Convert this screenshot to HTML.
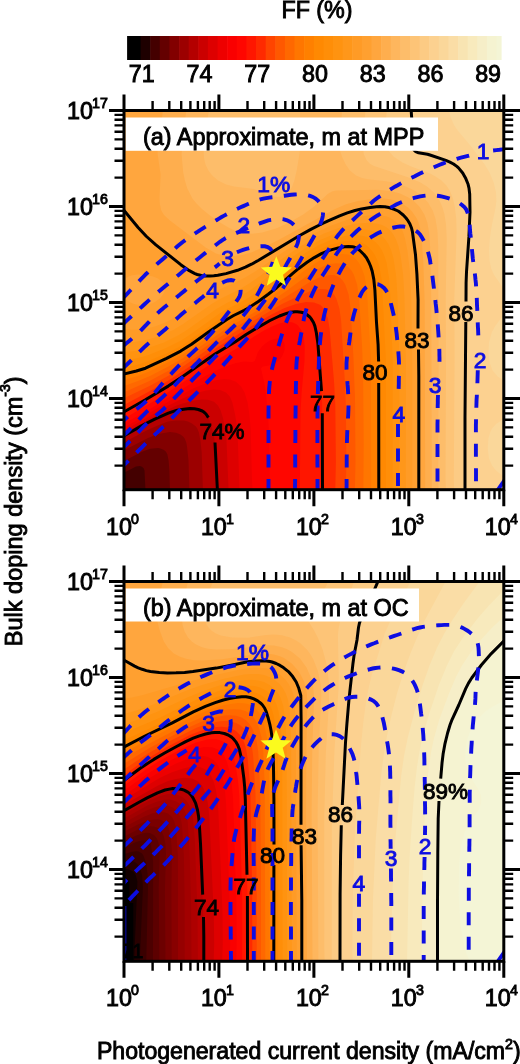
<!DOCTYPE html><html><head><meta charset="utf-8"><title>FF contour maps</title>
<style>html,body{margin:0;padding:0;background:#fff}svg{display:block}text{font-family:"Liberation Sans", sans-serif;fill:#000;stroke:#000;stroke-width:0.9px}</style></head><body>
<svg width="520" height="1064" viewBox="0 0 520 1064">
<defs><clipPath id="clip110"><rect x="124" y="110.5" width="379.8" height="379.2"/></clipPath>
<clipPath id="clip581"><rect x="124" y="581.5" width="379.8" height="379.8"/></clipPath></defs>
<rect width="520" height="1064" fill="#fff"/>
<rect x="127.1" y="36" width="14.1" height="24" fill="#000000"/>
<rect x="140.6" y="36" width="10.2" height="24" fill="#1e0000"/>
<rect x="150.2" y="36" width="10.2" height="24" fill="#440000"/>
<rect x="159.8" y="36" width="10.2" height="24" fill="#640000"/>
<rect x="169.5" y="36" width="10.2" height="24" fill="#820000"/>
<rect x="179.1" y="36" width="10.2" height="24" fill="#9c0000"/>
<rect x="188.7" y="36" width="10.2" height="24" fill="#b40000"/>
<rect x="198.3" y="36" width="10.2" height="24" fill="#cb0000"/>
<rect x="207.9" y="36" width="10.2" height="24" fill="#de0000"/>
<rect x="217.6" y="36" width="10.2" height="24" fill="#ee0000"/>
<rect x="227.2" y="36" width="10.2" height="24" fill="#fa0000"/>
<rect x="236.8" y="36" width="10.2" height="24" fill="#ff0600"/>
<rect x="246.4" y="36" width="10.2" height="24" fill="#ff1600"/>
<rect x="256" y="36" width="10.2" height="24" fill="#ff2a00"/>
<rect x="265.7" y="36" width="10.2" height="24" fill="#ff4400"/>
<rect x="275.3" y="36" width="10.2" height="24" fill="#ff5800"/>
<rect x="284.9" y="36" width="10.2" height="24" fill="#ff6800"/>
<rect x="294.5" y="36" width="10.2" height="24" fill="#ff7600"/>
<rect x="304.1" y="36" width="10.2" height="24" fill="#ff8000"/>
<rect x="313.8" y="36" width="10.2" height="24" fill="#ff8902"/>
<rect x="323.4" y="36" width="10.2" height="24" fill="#ff8e08"/>
<rect x="333" y="36" width="10.2" height="24" fill="#ff9310"/>
<rect x="342.6" y="36" width="10.2" height="24" fill="#ff971a"/>
<rect x="352.2" y="36" width="10.2" height="24" fill="#ff9b26"/>
<rect x="361.9" y="36" width="10.2" height="24" fill="#ffa030"/>
<rect x="371.5" y="36" width="10.2" height="24" fill="#ffa63e"/>
<rect x="381.1" y="36" width="10.2" height="24" fill="#feae4e"/>
<rect x="390.7" y="36" width="10.2" height="24" fill="#feb65d"/>
<rect x="400.3" y="36" width="10.2" height="24" fill="#fdbd6a"/>
<rect x="410" y="36" width="10.2" height="24" fill="#fdc477"/>
<rect x="419.6" y="36" width="10.2" height="24" fill="#fccb84"/>
<rect x="429.2" y="36" width="10.2" height="24" fill="#fcd190"/>
<rect x="438.8" y="36" width="10.2" height="24" fill="#fad79a"/>
<rect x="448.4" y="36" width="10.2" height="24" fill="#fadda6"/>
<rect x="458.1" y="36" width="10.2" height="24" fill="#f8e4b2"/>
<rect x="467.7" y="36" width="10.2" height="24" fill="#f8eabd"/>
<rect x="477.3" y="36" width="10.2" height="24" fill="#f6eec8"/>
<rect x="486.9" y="36" width="10.2" height="24" fill="#f5f3d1"/>
<rect x="496.5" y="36" width="5.1" height="24" fill="#f4f5d6"/>
<text x="141.8" y="82.3" font-size="23.3" text-anchor="middle">71</text>
<text x="199.5" y="82.3" font-size="23.3" text-anchor="middle">74</text>
<text x="257.2" y="82.3" font-size="23.3" text-anchor="middle">77</text>
<text x="315" y="82.3" font-size="23.3" text-anchor="middle">80</text>
<text x="372.7" y="82.3" font-size="23.3" text-anchor="middle">83</text>
<text x="430.4" y="82.3" font-size="23.3" text-anchor="middle">86</text>
<text x="488.1" y="82.3" font-size="23.3" text-anchor="middle">89</text>
<text x="317" y="17.6" font-size="23.3" text-anchor="middle">FF (%)</text>
<g clip-path="url(#clip110)">
<rect x="124" y="110.5" width="379.8" height="379.2" fill="#000000"/>
<path fill="#1e0000" d="M122,108.5 506,108.5 506,492.5 122,492.5Z"/>
<path fill="#440000" d="M122,108.5 506,108.5 506,492.5 122,492.5Z"/>
<path fill="#640000" d="M122,108.5 506,108.5 506,492.5 145.6,492.5 144.5,470.5 143.8,468.5 142,466.7 140,466.1 136,466.5 122,473.9Z"/>
<path fill="#820000" d="M122,108.5 506,108.5 506,492.5 170,492.5 169.4,470.5 168.6,460.5 167.4,454.5 166,451.8 164,450 160.5,448.5 158,448.1 150,448.8 142,451.7 122,461.9Z"/>
<path fill="#9c0000" d="M122,108.5 506,108.5 506,492.5 189.5,492.5 188.5,460.5 187,446.5 186.3,442.5 184.7,438.5 183.1,436.5 180.5,434.5 176,432.8 170,432 158,434 148,438.1 122,451.2Z"/>
<path fill="#b40000" d="M122,108.5 506,108.5 506,492.5 203,492.5 201.7,452.5 200.4,440.5 198.9,432.5 197.3,428.5 195.9,426.5 192,423.4 188,421.6 184,420.6 176,420.6 168,421.6 160,424.5 148,429.8 122,443.4Z"/>
<path fill="#cb0000" d="M122,108.5 506,108.5 506,492.5 217.5,492.5 215.3,446.5 214.1,436.5 211.1,424.5 208.9,418.5 206,414.1 202,410.9 196,409 188,408.7 180,409.8 170,412.5 144.3,424.5 129.9,432.5 126,435.3 122,437.1Z"/>
<path fill="#de0000" d="M122,108.5 506,108.5 506,492.5 228.7,492.5 226.5,440.5 225.3,430.5 223.1,418.5 220.7,410.5 218,405.5 214,401.8 208,399.7 202,399.4 194,400.4 184,402.9 176,405.8 152,417.4 122,434.3Z"/>
<path fill="#ee0000" d="M122,108.5 506,108.5 506,492.5 239.6,492.5 237.7,436.5 236.7,424.5 235.1,414.5 232.4,402.5 229.8,396.5 226,392.4 220,389.9 214,389.5 206,390.5 196,393.2 184,397.8 168,405.7 122,431.9Z"/>
<path fill="#fa0000" d="M122,108.5 506,108.5 506,492.5 252.8,492.5 252,480.5 250.7,428.5 249.4,414.5 247.6,402.5 244.6,392.5 241.1,386.5 236,381.8 230,379.4 224,379 216,380.2 206,383.2 194,388 172,399.6 122,428.8Z"/>
<path fill="#ff0600" d="M122,108.5 506,108.5 506,492.5 270.1,492.5 269,434.5 268.1,414.5 265.1,386.5 261,368.5 262,367 263.1,366.5 270,365.3 276,362.7 280,359.3 282.1,356.5 284.5,350.5 284.7,344.5 284.1,342.5 282.7,340.5 280,338.9 278,338.6 274,339.1 270,340.6 266,343.1 262,346.5 257.7,352.5 255,360.5 254,361.5 252,362 244,361.5 236,362.9 224,367 214,371.6 190,384.2 154,406.5 122,425Z"/>
<path fill="#ff1600" d="M122,108.5 506,108.5 506,492.5 299.8,492.5 300.5,412.5 301.6,392.5 304.5,360.5 304.7,346.5 303.9,338.5 301.5,330.5 298,325.5 296,324 292,322.3 286,322 280,323.3 272,326.4 264,330.5 254.1,336.5 238,347.8 215.9,360.5 162,396.2 122,419.9Z"/>
<path fill="#ff2a00" d="M122,108.5 506,108.5 506,492.5 322.4,492.5 322.1,402.5 317.8,342.5 315.5,328.5 312.5,320.5 310,317 308,315.3 302,312.5 296,311.8 288,313 278,316.7 266.4,322.5 250,332 234,342.6 214.3,354.5 166,387.5 122,413Z"/>
<path fill="#ff4400" d="M122,108.5 506,108.5 506,492.5 335.2,492.5 335.9,462.5 335.3,404.5 334.1,382.5 329.6,328.5 327.9,318.5 324.9,310.5 322,306.5 320,304.8 314,302.4 306,302.1 296,304 284,308.3 272,314.3 247.4,328.5 216,348.3 186,369.1 168,380.8 150,391.1 122,406Z"/>
<path fill="#ff5800" d="M122,108.5 506,108.5 506,492.5 345.6,492.5 346.4,464.5 345.9,406.5 344.8,380.5 341.1,320.5 339.4,308.5 336.3,298.5 334,294.6 332,292.4 329.3,290.5 326,289.2 320,288.9 310,291.3 298,296.2 282,304.1 236.9,330.5 212,346.5 184,365.8 168,375.9 150,385.8 122,399.3Z"/>
<path fill="#ff6800" d="M122,108.5 506,108.5 506,492.5 354.8,492.5 355.5,462.5 355,398.5 353.3,354.5 350.6,308.5 348.6,294.5 345.2,284.5 342.7,280.5 340,277.8 338,276.5 334,275.1 330,274.9 324,275.9 318,278 310,282 257.3,314.5 233.2,328.5 212,342.3 188,359 174,367.7 150,380.8 122,393Z"/>
<path fill="#ff7600" d="M122,108.5 506,108.5 506,492.5 363.3,492.5 363.7,444.5 363.1,376.5 362.1,346.5 359.1,298.5 357.1,284.5 353.8,274.5 351.4,270.5 348,266.7 342,263.7 336,263.2 330,264.1 324,266.1 316,270.1 306,276.4 284.2,292.5 266.6,304.5 252,313.8 230,326.2 182,358.7 166,367.8 150,376 138,381.1 122,386.8Z"/>
<path fill="#ff8000" d="M122,108.5 506,108.5 506,492.5 371.2,492.5 370.9,360.5 367,290.5 364.7,276.5 361.1,266.5 358.7,262.5 355.3,258.5 352,256 348.2,254.5 342,254.1 334,255.2 326,257.7 318,261.6 302,272.2 279.8,290.5 263.2,302.5 250,311.1 228,323.2 184,353.4 168,362.3 148,372 138,375.9 122,380.7Z"/>
<path fill="#ff8902" d="M122,108.5 506,108.5 506,492.5 378.7,492.5 378.5,356.5 374.4,284.5 372.5,272.5 370.7,266.5 368.1,260.5 365.5,256.5 360,250.5 357.1,248.5 354,247.3 348,246.5 336,248.4 326,251.6 318,255.5 300,267.5 275.6,288.5 256.8,302.5 247.4,308.5 226,320 184,349.1 170,356.7 148,366.9 138,370.6 122,374.5Z"/>
<path fill="#ff8e08" d="M122,108.5 506,108.5 506,492.5 385.8,492.5 385.8,358.5 381.8,280.5 379.3,266.5 377.4,260.5 374.5,254.5 371.7,250.5 367.8,246.5 364,243.8 360,242 352,240.5 344,241.2 330,245 318,250.3 308,256.3 296.5,264.5 271.2,286.5 255.5,298.5 246,304.7 224,316.3 182,345.5 168,352.7 146,362.1 136,365.2 122,367.9Z"/>
<path fill="#ff9310" d="M122,108.5 506,108.5 506,492.5 392.6,492.5 392.7,360.5 390.2,294.5 389.1,278.5 386.5,262.5 384.6,256.5 382,250.5 379.5,246.5 375.9,242.5 372,239.6 366,236.7 362,235.7 356,235 346,235.8 332,239.6 318,245.6 306.1,252.5 294.7,260.5 266.4,284.5 252,295.4 244,300.5 228,308.6 220,313.3 190.2,334.5 181,340.5 166,348.1 148,355.2 136,358.6 122,360.7Z"/>
<path fill="#ff971a" d="M122,108.5 506,108.5 506,492.5 399.3,492.5 399.4,362.5 397.4,296.5 396.2,276.5 393.5,258.5 391.2,250.5 388.6,244.5 386,240.4 382.5,236.5 378,233.3 374,231.5 368,229.9 362,229.2 350,230 336,233.6 320,240 308,246.5 293,256.5 282.5,264.5 262,281.6 250,290.4 240.1,296.5 226,303.6 216,309.3 186.2,330.5 178,335.6 164,342.4 148,348.1 136,351 122,352.4Z"/>
<path fill="#ff9b26" d="M122,108.5 506,108.5 506,492.5 405.8,492.5 405.9,362.5 404.4,296.5 403.1,274.5 400.4,254.5 398.5,246.5 396,239.4 393.4,234.5 390.2,230.5 386,227.1 382,225.1 376,223.4 370,222.7 356,223.5 340,227.4 324,233.5 312,239.4 300.1,246.5 282.6,258.5 260,276 250,283.1 238,290.3 220,299.1 212,303.7 182.4,324.5 172.3,330.5 158.4,336.5 146,340.1 134,342.1 122,342.4Z"/>
<path fill="#ffa030" d="M122,108.5 506,108.5 506,492.5 412.3,492.5 412.3,362.5 411.3,298.5 409.8,270.5 407.4,250.5 405,238.5 403.2,232.5 401.4,228.5 398,223.8 394,220.2 390,217.8 386,216.3 380,215.2 372,215.1 364,215.9 348,219.4 330,225.9 314,233.4 300,241.3 279.6,254.5 256,270.9 246,277 235.3,282.5 214,291.7 204,296.9 196,302 176.2,316.5 166,322.2 154.9,326.5 144,329 132,329.8 122,328.9Z"/>
<path fill="#ffa63e" d="M122,108.5 506,108.5 506,492.5 418.8,492.5 418.8,366.5 418.1,300.5 417.2,278.5 415.5,254.5 412.1,230.5 409.1,222.5 404,215.8 400.1,212.5 396,210 390,207.8 384,206.7 378,206.6 370,207.4 354,210.8 336,217.3 314,227.7 300,235.3 258,260.6 242,268.6 228,273 216,275.5 204,275.8 196,274.1 190,271.2 182,265.7 150,239.8 138.9,228.5 122,208ZM137.6,274.5 146,274.9 153.1,276.5 158,278.5 163.1,282.5 165,286.5 164.8,290.5 163.1,294.5 159.7,298.5 156,301.3 152,303.3 148,304.6 142,305.2 136,304.5 132,303.2 128,301 125.1,298.5 122,294.4 122,281.9 124,279.4 128,276.7 132,275.3Z"/>
<path fill="#feae4e" d="M163.1,108.5 506,108.5 506,492.5 425.2,492.5 424.7,302.5 423.3,262.5 422,243.4 420.2,228.5 418.5,222.5 416.8,218.5 412,211.5 408,207.6 402,203.5 396,200.8 390,199.2 384,198.4 376,198.4 358,201 346,204.3 334,209.4 278,240.2 264,247.1 252,252.2 242,255.1 232,256.3 224,255.7 216,253.4 206,247.7 169.9,220.5 164,215.1 161.3,210.5 159.9,204.5 159.5,198.5 160.6,174.5 157.7,154.5 157.3,144.5 158.3,134.5 162.2,116.5Z"/>
<path fill="#feb65d" d="M186.6,108.5 506,108.5 506,492.5 431.8,492.5 431.3,300.5 430.1,246.5 429.1,232.5 427.3,222.5 424.4,214.5 419.3,206.5 414,201.3 408,197.2 400,193.5 392,191.2 378,189.8 336,190.5 332,191.4 328,193.8 314.2,206.5 303.2,214.5 289.3,222.5 276,228.5 262.2,232.5 252,233.7 242,232.9 234.4,230.5 228,227.3 220,222.4 210,215.5 202,209.1 196,203.1 192.4,198.5 187.3,188.5 184.9,180.5 183.2,172.5 181.6,154.5 182.5,138.5Z"/>
<path fill="#fdbd6a" d="M209.3,108.5 299.8,108.5 300.9,136.5 299.7,152.5 296.7,170.5 294.4,180.5 292,187 288,192.8 285.9,194.5 282,196.4 278,197 274,196.5 254,189.1 234,186.5 226,184.6 218,180.5 212,175.3 208.4,170.5 205.5,164.5 204.1,158.5 203.6,152.5 203.9,142.5 204.9,132.5ZM341.9,108.5 506,108.5 506,492.5 438.7,492.5 438.2,476.5 438.6,364.5 438.2,246.5 437.4,230.5 435.4,218.5 432.7,210.5 428,202.4 422,196 414,190.3 404,185.7 394,182.7 386,181.2 368,179.3 362,178.1 356,175.6 349.9,170.5 345.7,164.5 342.8,158.5 340.6,152.5 338.9,144.5 338.8,136.5 341.7,116.5Z"/>
<path fill="#fdc477" d="M365.8,108.5 506,108.5 506,492.5 446,492.5 445.5,478.5 446,360.5 445.7,298.5 446.7,238.5 446,224.5 444.5,214.5 442.2,206.5 438.4,198.5 433.9,192.5 427,186.5 420,182.3 410,177.9 374,166 370,163.7 366.8,160.5 363.9,154.5 362.3,144.5 362.7,134.5ZM248.7,122.5 252,121.3 254,121.6 256,123 258,126.8 258.8,134.5 258,140.5 256,145.4 254,148 252,149.5 248,150.4 244.5,148.5 243,146.5 241.5,142.5 241.2,138.5 242,132.7 243.6,128.5 246,124.8Z"/>
<path fill="#fccb84" d="M386.9,108.5 506,108.5 506,492.5 454.3,492.5 453.8,480.5 454.6,354.5 454.3,298.5 456.6,232.5 456.2,218.5 454.8,206.5 452.9,198.5 450,191.1 446,184.9 441.5,180.5 436,176.7 430,173.6 411.2,166.5 402.5,162.5 393.5,156.5 388.3,150.5 385.7,144.5 384.7,136.5Z"/>
<path fill="#fcd190" d="M411,108.5 506,108.5 506,492.5 465.2,492.5 465,420.5 466.1,284.5 469.9,216.5 469.9,200.5 469.4,190.5 467.5,182.5 464.8,176.5 460.8,170.5 456,165.8 452,163.2 446,160.4 432,155.6 418.5,152.5 414,149.8 413.1,148.5 412.2,144.5 412.5,130.5Z"/>
<path fill="#fad79a" d="M448.7,108.5 506,108.5 506,292 493.8,274.5 491.2,268.5 489.5,260.5 489,250.5 489.8,238.5 491.6,226.5 495.4,208.5 496.4,200.5 496,192.5 493.7,182.5 489.5,172.5 484.7,164.5 472,147.5 457.7,130.5 454,125 450.3,116.5ZM505.1,312.5 506,310.9 506,382.2 497.6,376.5 492.6,370.5 489.6,362.5 488.4,352.5 489,342.5 491.7,332.5 494.9,326.5ZM504.2,418.5 506,417.4 506,478.5 496,470.6 492,465.6 489,458.5 487.7,448.5 488.4,438.5 490,432.8 492,428.6 496,423.9Z"/>
<path d="M411,108 L412.5,130 L412.5,145.2 L413.3,148.6 L414,150 L415.2,151.3 L416.8,152.2 L418.5,152.8 L427.5,154.2 L430,155 L445.9,160.4 L449.9,162.1 L453.5,164 L456.8,166.4 L458.5,167.9 L462.7,173 L465.8,178.6 L468.1,184.3 L469,188.1 L469.7,194 L470,212.3 L468.9,236.9 L466.5,272 L466.1,282.7 L466,301.5M465.8,322.1 L465,417.7 L465,492M122,208 L138.1,227.5 L146.5,236.5 L155.9,244.8 L180.8,264.7 L189.3,270.7 L194.9,273.6 L197.2,274.5 L201.4,275.5 L205.6,275.9 L210,276 L213.8,275.8 L217.8,275.3 L226,273.6 L237.5,270.3 L245.4,267.2 L251.5,264.2 L258.2,260.5 L299.7,235.5 L310.8,229.4 L320.4,224.5 L328.1,220.9 L339.6,215.9 L347.3,212.9 L355,210.5 L361.5,208.9 L370.2,207.4 L376.4,206.7 L380,206.5 L384.8,206.7 L388.9,207.5 L394.3,209.3 L398.1,211 L399.9,212.3 L403.2,215 L406,218 L407.4,219.8 L409.8,223.8 L411.5,228 L412.4,231.6 L415.5,254.8 L416.9,273.8 L418.1,299.9 L418,328.4M418.5,349.4 L418.8,375.9 L418.8,492M122,374.5 L136.4,371 L145.5,368.2 L166.6,358.4 L180.7,351.1 L191.5,344.2 L208.5,332 L226.8,319.5 L233.6,315.5 L244.2,310.3 L248,308.2 L258,301.7 L268.2,294.2 L276.6,287.7 L292.2,273.9 L298.4,268.7 L307.1,262.3 L314.3,257.6 L321.4,253.6 L329.3,250.4 L338.3,247.9 L344.6,246.8 L348.4,246.5 L352.5,246.7 L354.6,247.3 L356.5,248.1 L359.6,250.3 L363.9,254.5 L366.5,257.8 L368.6,261.7 L370.5,266 L372.2,271.2 L373.8,279.4 L374.9,290.2 L376.5,322.5 L378.1,344.7 L378.6,361.5M378.7,382.9 L378.8,492M122,413 L145,400 L168.2,386.1 L182,377 L215,354 L235,342 L246.1,334.5 L256.6,328.1 L270,320.5 L279.5,316 L287.3,313.1 L290.8,312.3 L294.9,311.7 L297.2,311.7 L301.3,312.2 L303.2,312.7 L306.7,314.5 L309.8,317 L311.1,318.6 L313.5,322.5 L314.9,326.1 L316.3,332.5 L317.9,343.6 L321.5,391.2M322.3,413.2 L322.5,492M122,437 L141.4,425.9 L154.8,419.1 L168.3,413.1 L172.6,411.6 L177.3,410.3 L183.7,409.2 L189.9,408.6 L194.4,408.8 L198.3,409.5 L202.3,411 L204.2,412.3 L206,414 L208.4,417.6M215,442.5 L217.5,492" fill="none" stroke="#000" stroke-width="3" stroke-linejoin="round"/>
</g>
<g clip-path="url(#clip581)">
<rect x="124" y="581.5" width="379.8" height="379.8" fill="#000000"/>
<path fill="#000000" d="M122,579.5 506,579.5 506,963.5 126.1,963.5 122,914.6Z"/>
<path fill="#130000" d="M122,579.5 506,579.5 506,963.5 129.5,963.5 129.3,883.5 129,881.5 128,880.3 122,881.6Z"/>
<path fill="#280000" d="M122,579.5 506,579.5 506,963.5 134,963.5 137.4,881.5 135.9,875.5 134,872.6 132,870.8 128,869.2 122,869.4Z"/>
<path fill="#3a0000" d="M122,579.5 506,579.5 506,963.5 139.7,963.5 142.9,887.5 142.2,875.5 140,868.1 138,864.7 136,862.8 133.8,861.5 130,860.7 122,861.6Z"/>
<path fill="#4c0000" d="M122,579.5 506,579.5 506,963.5 146.2,963.5 148,885.5 147.5,873.5 146,862.7 143.4,855.5 142,853.4 138.7,851.5 136,851.2 132,851.8 122,854.9Z"/>
<path fill="#5c0000" d="M122,579.5 506,579.5 506,963.5 153,963.5 153.1,861.5 151.1,845.5 150,843.1 148,841.1 146,840.3 142,840.2 136,842 122,848.7Z"/>
<path fill="#6c0000" d="M122,579.5 506,579.5 506,963.5 159.4,963.5 158.7,887.5 159.7,855.5 159.4,847.5 158.2,841.5 156.3,837.5 154,835 150,833.1 146,832.8 142,833.4 136.2,835.5 122,842.8Z"/>
<path fill="#7a0000" d="M122,579.5 506,579.5 506,963.5 165.5,963.5 164.9,889.5 166,853.5 165.4,843.5 163.6,835.5 161.6,831.5 158,828 154,826.5 150,826.3 144,827.3 138,829.4 122,837.5Z"/>
<path fill="#880000" d="M122,579.5 506,579.5 506,963.5 171.7,963.5 171.4,891.5 171.9,851.5 170.8,837.5 168.4,827.5 166,823.3 162,820.3 158,819.3 154,819.4 148,820.6 140,823.5 122,832.7Z"/>
<path fill="#960000" d="M122,579.5 506,579.5 506,963.5 178,963.5 177.9,855.5 176.3,831.5 175.4,825.5 174,820.7 172,817 168,813.5 164,812.2 158,812.2 152,813.6 144,816.7 122,828.2Z"/>
<path fill="#a20000" d="M122,579.5 506,579.5 506,963.5 184.7,963.5 184.6,897.5 183.9,855.5 182,825.5 180.9,819.5 179.6,815.5 176,810 172.8,807.5 168,805.7 162,805.5 154,807.4 146,810.7 122,823.8Z"/>
<path fill="#ae0000" d="M122,579.5 506,579.5 506,963.5 191.5,963.5 191.1,905.5 189.5,849.5 187.7,821.5 186.5,815.5 184.2,809.5 180,803.9 176,801.2 170,799.5 164,799.7 156,801.9 147.3,805.5 122,819.5Z"/>
<path fill="#ba0000" d="M122,579.5 506,579.5 506,963.5 197.9,963.5 197.5,911.5 194.8,839.5 193,817.5 191.7,811.5 189.5,805.5 186,800.1 182,796.7 176,794.3 168,794 160,796 150,800.2 139.5,805.5 122,815.6Z"/>
<path fill="#cb0000" d="M122,579.5 506,579.5 506,963.5 203.8,963.5 203.3,913.5 199.7,829.5 197.8,811.5 196.3,805.5 193.9,799.5 189.5,793.5 184,790.1 178,788.7 170,788.9 162,791 154,794.5 140,801.7 122,812Z"/>
<path fill="#de0000" d="M122,579.5 506,579.5 506,963.5 213.6,963.5 214.2,943.5 213.8,915.5 209.5,819.5 208.5,807.5 207.2,799.5 205.6,793.5 203.1,787.5 200.3,783.5 198.2,781.5 192,778.4 184,777.7 176,778.9 168,781.1 158,785.4 122,806Z"/>
<path fill="#ee0000" d="M122,579.5 506,579.5 506,963.5 222.1,963.5 222.8,943.5 222.5,911.5 218.3,809.5 217.4,799.5 215.9,789.5 213.7,781.5 210.9,775.5 206,769.8 200,767 192,766.6 184,768.2 172,772.3 160,777.8 122,800.7Z"/>
<path fill="#fa0000" d="M122,579.5 506,579.5 506,963.5 229.5,963.5 230.2,943.5 229.9,907.5 226.1,803.5 225.1,791.5 223.5,781.5 220.8,771.5 218,765.2 214,760.2 208,756.9 204,756.1 200,756.1 190,758.1 176,763.6 160,771.7 148,779 130,791.3 122,795.9Z"/>
<path fill="#ff0600" d="M122,579.5 506,579.5 506,963.5 236.2,963.5 236.7,939.5 236.4,901.5 233,797.5 231.6,783.5 229.6,771.5 226.8,761.5 224,755.5 220.7,751.5 218.1,749.5 212,747.3 204,747.1 193.9,749.5 180,755.4 160,766 148,773.5 128.4,787.5 122,791.3Z"/>
<path fill="#ff1600" d="M122,579.5 506,579.5 506,963.5 242.1,963.5 242.2,899.5 239.3,795.5 238,780.4 235.3,763.5 232.8,753.5 229.8,747.5 228,745.3 224,742 220,740.2 216,739.3 207.6,739.5 196,742.5 180.3,749.5 158,761.8 145.9,769.5 127.1,783.5 122,786.8Z"/>
<path fill="#ff2a00" d="M122,579.5 506,579.5 506,963.5 247.5,963.5 247.4,893.5 244.9,791.5 243.8,777.5 240.8,755.5 238.7,747.5 235.6,741.5 232,737.5 229.1,735.5 224.3,733.5 220,732.7 216,732.5 210,733.1 198,736.4 182.1,743.5 156.9,757.5 141.4,767.5 122,782Z"/>
<path fill="#ff4400" d="M122,579.5 506,579.5 506,963.5 252.3,963.5 252.2,895.5 250.5,795.5 249.6,779.5 247.5,757.5 246.2,749.5 244.6,743.5 242.9,739.5 240,735 236,731.1 232,728.8 228,727.5 222,726.7 216,726.9 208,728.4 200,730.9 190,735.1 166,747.6 144,760.8 122,776.4Z"/>
<path fill="#ff5800" d="M122,579.5 506,579.5 506,963.5 256.7,963.5 256.7,891.5 255.5,793.5 253.1,755.5 252,747.5 250,739.5 247.4,733.5 244,728.5 240,725 236,722.9 232,721.7 226,721 220,721.3 212,722.7 204,725 196,728.1 173,739.5 148,753.5 122,770.7Z"/>
<path fill="#ff6800" d="M122,579.5 506,579.5 506,963.5 261,963.5 261,877.5 260.2,789.5 258.2,751.5 256.7,741.5 254.4,733.5 252,727.9 249.1,723.5 246,720.3 241.6,717.5 236,715.8 230,715.2 224,715.6 216,717 202,721.4 184,729.6 150,747.7 122,765.1Z"/>
<path fill="#ff7600" d="M122,579.5 506,579.5 506,963.5 265.3,963.5 264.7,783.5 263,747.5 261.5,737.5 258.8,727.5 256.2,721.5 253.7,717.5 250,713.7 246,711.3 240,709.6 234,709.2 228,709.6 220,711.1 206,715.5 190,722.4 149.4,743.5 122,759.5Z"/>
<path fill="#ff8000" d="M122,579.5 506,579.5 506,963.5 269.5,963.5 269.6,811.5 268.8,763.5 268.2,749.5 266.9,737.5 264.9,727.5 262,718.5 259.7,713.5 256.7,709.5 252,705.8 248,704.1 244,703.2 238,703 224,705 210,709.4 194,716.1 146,740.6 122,753.9Z"/>
<path fill="#ff8902" d="M122,579.5 506,579.5 506,963.5 273.7,963.5 274,809.5 273.3,757.5 272.6,743.5 271.2,731.5 269.1,721.5 266.1,711.5 264,707.2 261.1,703.5 256,699.9 252,698.1 248,697.1 242,696.8 234,697.7 226,699.3 212,703.8 196,710.5 122,748Z"/>
<path fill="#ff8e08" d="M122,579.5 506,579.5 506,963.5 278.1,963.5 278.3,809.5 277.8,755.5 276,729.2 273.6,715.5 271.2,707.5 269.3,703.5 266,699.1 261.7,695.5 256,692.7 250,691.3 244,691 230,693.1 216,697.2 198,704.5 168,719.9 122,741.3Z"/>
<path fill="#ff9310" d="M122,579.5 506,579.5 506,963.5 282.6,963.5 282.2,751.5 281.5,735.5 280.1,721.5 278.5,711.5 276.2,703.5 273,697.5 270,693.8 266,690.5 260.1,687.5 254,685.9 248,685.4 242,685.7 234,687 218,691.3 202,697.3 190,702.7 160.4,717.5 122,733.8Z"/>
<path fill="#ff971a" d="M122,579.5 506,579.5 506,963.5 287.2,963.5 286.6,745.5 285.8,727.5 284.5,713.5 283.1,705.5 280.4,697.5 278,693.2 274,688.4 270,685.2 264,682.1 258,680.4 252,679.8 246,679.9 238,681 220,685.3 202,691.4 188,697.2 157.9,711.5 138,719.5 122,725.2Z"/>
<path fill="#ff9b26" d="M122,579.5 506,579.5 506,963.5 291.9,963.5 291.1,739.5 289.6,709.5 288,700 285.8,693.5 282.4,687.5 279,683.5 274.1,679.5 270,677.2 264,675.1 258,674.1 252,673.9 244,674.6 224,678.7 202,685 186,690.8 150,705.7 134,711.2 122,714.5Z"/>
<path fill="#ffa030" d="M122,579.5 506,579.5 506,963.5 296.8,963.5 295.8,727.5 294.6,701.5 293.6,695.5 291.7,689.5 288.4,683.5 285.3,679.5 281.1,675.5 276,672 272,670.1 266,668.3 254,667.6 242,669.1 210,676.2 184,682.9 142,695.3 132,697.6 122,699.1Z"/>
<path fill="#ffa63e" d="M122,579.5 506,579.5 506,963.5 301.7,963.5 301.7,899.5 301,827.5 301,705.5 300.2,693.5 296.9,683.5 291.8,675.5 288,671.3 284,668 276,663.4 268,661.2 260,660.8 250,661.5 218,667.7 198,670.9 182,672.5 166,672.9 154,672.1 144,669.9 136,666.7 122,659Z"/>
<path fill="#feae4e" d="M163.5,579.5 506,579.5 506,963.5 307,963.5 306.1,815.5 306.4,747.5 307.3,701.5 306.7,691.5 304.1,681.5 298.9,671.5 292,663.7 284,658.1 280,656.3 274,654.4 266,653.5 256,653.9 222,659.3 202,660.6 194,660.2 186,658.8 180,656.8 173.8,653.5 168,648.1 163.8,641.5 159.4,629.5 156.9,619.5 156.4,611.5 157.2,603.5Z"/>
<path fill="#feb65d" d="M188.6,579.5 506,579.5 506,963.5 312.5,963.5 311.6,811.5 312.3,747.5 314.1,699.5 313.3,687.5 310.9,677.5 306.5,667.5 300,658.6 292,651.9 287.7,649.5 282,647.2 274,645.6 266,645.3 230,649.3 216,649.6 208,648.7 202,647.2 196,644.5 192,641.7 188,637.5 184.6,631.5 182.7,625.5 181.6,617.5 181.8,609.5 183,601.5Z"/>
<path fill="#fdbd6a" d="M213.4,581.5 214.5,579.5 506,579.5 506,963.5 318.4,963.5 317.6,813.5 318.7,749.5 321.3,695.5 320.5,683.5 318,671.5 313.4,659.5 310,653.7 306.8,649.5 300,643.1 296,640.4 290,637.5 282,635.3 274,634.6 266,635.1 248,637.7 232,637.6 220.8,635.5 215.9,633.5 212,631 208.5,627.5 206.1,623.5 204.4,617.5 204,611.5 204.6,605.5 206.6,597.5 209.5,589.5Z"/>
<path fill="#fdc477" d="M328.7,579.5 506,579.5 506,963.5 324.7,963.5 324.3,949.5 324.2,819.5 325.8,753.5 329,701.5 329,683.5 326.9,665.5 322.6,649.5 318,638.1 314,630.3 307.4,619.5 305.3,613.5 305.4,611.5 307.5,607.5 318,597.8 323.1,591.5 326.5,585.5ZM250,593.5 258,592 264,592.7 268,593.9 272,595.9 276.4,599.5 278.4,603.5 278.1,605.5 276.9,607.5 271.6,611.5 259.6,617.5 254,619.4 250,620 244,618.9 240,616.3 238,613.5 237.1,609.5 237.7,605.5 239.7,601.5 242,598.7 246,595.5Z"/>
<path fill="#fccb84" d="M354,581.5 354.6,579.5 506,579.5 506,963.5 331.7,963.5 331.8,827.5 334.4,751.5 338.6,687.5 338.7,673.5 337.9,635.5 338.7,627.5 340.6,619.5Z"/>
<path fill="#fcd190" d="M377.9,581.5 378.8,579.5 506,579.5 506,963.5 340,963.5 340.1,893.5 341.4,823.5 345.6,741.5 350,689.3 353.8,657.5 359.9,621.5 362.2,615.5 371.1,597.5Z"/>
<path fill="#fad79a" d="M411.5,579.5 506,579.5 506,963.5 352.8,963.5 352.4,953.5 352.7,901.5 354.9,831.5 360.8,747.5 363.2,723.5 365.8,703.5 368.3,689.5 372,674.2 384.7,633.5 392.6,615.5Z"/>
<path fill="#fadda6" d="M445.6,581.5 446.7,579.5 506,579.5 506,963.5 372,963.5 372.9,901.5 375.7,839.5 381.1,775.5 383.6,755.5 387.1,735.5 391.4,715.5 397,693.5 403.2,673.5 410.4,653.5 417,637.5 425.2,619.5Z"/>
<path fill="#f8e4b2" d="M479.6,581.5 481.1,579.5 506,579.5 506,963.5 390.6,963.5 392.4,891.5 395,843.5 401.2,775.5 404.1,755.5 407.8,737.5 414.6,711.5 422.5,685.5 429.5,665.5 437.1,647.5 444.3,633.5 452.7,619.5 464,602.7Z"/>
<path fill="#f8eabd" d="M504.6,589.5 506,588 506,963.5 407,963.5 408.6,881.5 409.9,851.5 412.4,815.5 414.6,787.5 416.9,767.5 419.5,751.5 423.5,733.5 429.3,713.5 438.7,685.5 446.9,665.5 453.9,651.5 464,635.9 478,618 488,606.6Z"/>
<path fill="#f6eec8" d="M505.2,615.5 506,614.8 506,963.5 421.5,963.5 422.8,873.5 425,809.5 426.4,789.5 428.8,767.5 431.2,751.5 434,738.3 439.3,719.5 449,693.5 455.7,677.5 462,665.6 470,653.4 480,640.8 492,627.7Z"/>
<path fill="#f5f3d1" d="M505.5,639.5 506,639 506,963.5 437.5,963.5 437.6,877.5 438.4,813.5 439.8,789.5 442,763.6 444.6,745.5 448,731.5 451.3,721.5 468,684.1 474,674.7 484,661.8 492,652.9Z"/>
<path fill="#f4f5d6" d="M505.4,697.5 506,696.4 506,963.5 470.7,963.5 466.4,953.5 464,945.7 460.5,925.5 458.6,895.5 459.1,863.5 461.2,845.5 464.2,833.5 468,825.2 478.6,809.5 481,803.5 481.4,799.5 481,795.5 479.6,791.5 470,776.2 467.1,769.5 465.1,759.5 465.5,747.5 467.2,739.5 470,731.8 474,724.6 478,719.1 486,711.1 492,707.1 502,701.5Z"/>
<path d="M506,639 L491.3,653.6 L481.4,665 L471.7,678 L468.5,683.1 L465.7,688.7 L458.8,705 L451.6,720.7 L450,725 L447.6,733 L445,743.6 L443.1,754.1 L442.1,762.2 L440.7,778.7M439,801 L438.2,818.7 L437.8,852.8 L437.5,904 L437.5,964M379,579 L370,600 L361.4,617.3 L359.4,623.2 L358.5,627.5 L357,640 L354.1,655.1 L353,663.2 L348.9,700.1 L346.9,723.8 L345.5,742.5 L342.3,805M341.3,825.2 L340.6,855.2 L340.1,893.8 L340,964M122,659 L134.6,666.1 L138.2,667.8 L142.2,669.3 L146.3,670.6 L150.4,671.5 L159.3,672.6 L167.4,672.9 L176.1,672.8 L184.6,672.4 L192.9,671.5 L216.1,668.1 L232.5,665 L247.7,661.8 L256,661 L262.2,660.8 L266.3,661 L270,661.5 L272.1,662 L276.2,663.5 L280,665.4 L283.4,667.6 L288.4,671.6 L292.7,676.6 L296.2,682 L298.8,688.3 L300.8,695.5 L301.1,719.5 L301,824.8M301.1,845.2 L301.8,900 L301.8,964M122,748 L145,736 L171.8,723.1 L193.3,711.8 L205.4,706.4 L215.2,702.6 L223.4,700 L229.4,698.5 L235,697.5 L241.8,696.8 L246,696.8 L250,697.5 L253.9,698.9 L257.7,700.9 L261.1,703.5 L262.5,705 L264.6,708 L266.2,711.6 L268.1,717.7 L270,725.2 L271.1,730.8 L272,737.4 L273,749.5 L273.5,767.9 L273.9,798.7 L274,844.6M273.9,864.9 L273.8,964M122,782 L139.9,768.5 L146.7,763.9 L153.8,759.4 L164.6,753 L177.9,745.7 L185.7,741.6 L193.2,738.2 L199.4,735.9 L205.6,734 L211.4,732.8 L215,732.5 L219.8,732.6 L224.3,733.5 L228.2,735 L231.6,737.1 L233.1,738.5 L235.7,741.6 L237.8,745.3 L239.3,749.1 L241,756.7 L243.9,778.6 L244.7,787.3 L245.3,799.2 L247,874.7M247.4,895.9 L247.5,964M122,812 L138.1,802.7 L147.1,797.9 L157.5,792.8 L165,790 L172,788.6 L178.1,788.7 L182.1,789.5 L184.1,790.1 L187.8,792.1 L189.5,793.4 L191,795 L193,797.9 L195.6,803.2 L197.5,810 L198.6,816.5 L199.3,824.1 L200.5,843.6 L202.7,894.6M203.5,917 L203.8,936.4 L203.8,964" fill="none" stroke="#000" stroke-width="3" stroke-linejoin="round"/>
</g>
<path clip-path="url(#clip110)" d="M122,299 L123.9,297.1 L125.6,295.3 L128,292.9 L130.4,290.3 L132.3,288.4 L134.3,286.2 L136.6,283.8 L138.9,281.4 L141.3,278.9 L143.8,276.4 L146.1,274 L148.4,271.8 L150.8,269.7 L153.1,267.5 L155.5,265.4 L157.9,263.3 L160.3,261.3 L162.7,259.2 L165,257.2 L167.4,255.1 L169.8,253 L172.2,250.9 L174.6,248.9 L176.9,246.8 L179.3,244.8 L181.8,242.8 L184.4,240.8 L186.9,239 L189.5,237.2 L192.1,235.4 L194.7,233.6 L197.4,231.9 L200.1,230.1 L202.9,228.4 L205.6,226.7 L208.2,225.1 L210.9,223.4 L213.6,221.8 L216.3,220.2 L219,218.6 L221.6,217 L224.2,215.6 L226.8,214.2 L229.5,212.7 L232.4,211.2 L235.2,209.8 L238,208.5 L240.6,207.3 L243.3,206.1 L245.8,205 L248.6,203.8 L251.7,202.5 L254.6,201.4 L257.4,200.3 L260.4,199.4 L263.4,198.7 L266.2,198.1 L269.2,197.6 L272.2,197.2 L275.3,196.9 L278.4,196.5 L281.5,196.1 L284.6,195.7 L287.8,195.2 L291.1,194.8 L294.2,194.5 L297.2,194.3 L300,194.3 L303.6,194.6 L307,195.1 L310.1,195.9 L312.8,196.9 L315.6,198.5 L318.2,200.9 L320.2,203.6 L321.7,206.4 L322.7,209.2 L323.1,212.3 L322.9,215.2 L322.5,217.6 L321.8,220.2 L320.6,223.3 L319,227 L317.9,229.2 L316.6,231.7 L315.1,234.4 L313.5,237.2 L311.9,240.1 L310.2,243 L308.6,245.8 L307,248.5 L305.6,251 L304,253.8 L302.5,256.4 L301.1,258.9 L299.8,261.3 L298.3,263.7 L296.8,266.3 L295,269.2 L293.5,271.6 L291.9,274.1 L290.2,276.7 L288.5,279.5 L286.7,282.2 L284.9,285 L283.2,287.7 L281.5,290.3 L279.9,292.7 L278.2,295.4 L276.3,298.3 L274.6,300.9 L273,303.4 L271.3,305.9 L269.6,308.4 L267.7,311.2 L266.1,313.6 L264.4,316.1 L262.6,318.6 L260.9,321.1 L259,323.7 L257.2,326.3 L255.3,328.8 L253.3,331.3 L251.4,333.6 L249.4,335.9 L247.4,338.1 L245.4,340.4 L243.3,342.6 L241.2,344.9 L239.1,347.2 L237,349.4 L235,351.8 L232.9,354.2 L230.7,356.6 L228.6,359 L226.5,361.4 L224.3,363.9 L222.2,366.2 L220.1,368.6 L218.1,370.8 L215.8,373.2 L213.6,375.6 L211.5,377.9 L209.3,380.1 L207.2,382.3 L205,384.5 L202.8,386.8 L200.6,389 L198.5,391.1 L196.4,393.2 L194.2,395.4 L192.1,397.5 L189.9,399.7 L187.7,401.9 L185.5,404.1 L183.4,406.3 L181.2,408.4 L179.1,410.6 L176.9,412.8 L174.8,415.1 L172.6,417.3 L170.5,419.5 L168.3,421.7 L166.2,423.8 L164,426 L161.7,428.1 L159.5,430.3 L157.3,432.4 L155.1,434.4 L152.9,436.5 L150.7,438.7 L148.5,440.8 L146.2,443 L143.8,445.4 L141.4,447.8 L139,450.2 L136.6,452.5 L134.4,454.7 L132.4,456.7 L130.6,458.5 L127.8,461.3 L125.7,463.3 L123.9,465.1 L122,467 L122,467M122,325 L124.1,323 L126.1,321.1 L128.3,319.1 L130.9,316.7 L133.4,314.4 L135.3,312.6 L137.4,310.7 L139.7,308.6 L142.1,306.5 L144.5,304.3 L146.9,302.1 L149.3,299.9 L151.6,297.9 L153.9,295.8 L156.4,293.7 L158.8,291.6 L161.2,289.6 L163.6,287.6 L166,285.6 L168.4,283.6 L170.7,281.6 L173.1,279.5 L175.6,277.5 L178,275.4 L180.4,273.4 L182.9,271.3 L185.3,269.3 L187.7,267.2 L190.2,265.2 L192.6,263.2 L195,261.3 L197.5,259.2 L200,257.2 L202.4,255.3 L204.8,253.4 L207.2,251.5 L209.4,249.8 L212.2,247.6 L214.9,245.6 L217.4,243.7 L219.9,241.8 L222.4,240.1 L225,238.5 L227.9,236.9 L230.7,235.5 L233.6,234.2 L236.6,232.9 L239.5,231.6 L242.4,230.4 L245.3,229.1 L248.2,227.9 L251.1,226.7 L254,225.5 L256.7,224.5 L259.6,223.4 L262.6,222.3 L265.4,221.3 L268.2,220.4 L271,219.8 L274.3,219.3 L277.7,219 L281,218.9 L284,219.3 L287.1,220.3 L289.9,221.7 L292.4,223.5 L294.7,225.7 L296.6,228.5 L298,231.5 L298.8,234.5 L298.8,237.5 L298.3,240.5 L297.6,243.4 L296.6,245.9 L295.1,248.9 L293.5,252 L292.2,254.4 L290.7,257 L289.2,259.8 L287.5,262.7 L285.9,265.7 L284.3,268.6 L282.8,271.4 L281.3,274.3 L279.7,277.3 L278.1,280.4 L276.6,283.4 L275.2,286.1 L273.9,288.5 L272.9,290.4 L271.3,292.1 L269,294.6 L267.5,296.6 L265.8,298.9 L263.9,301.5 L261.8,304.3 L259.7,307.2 L257.6,310 L255.6,312.7 L253.6,315.2 L251.8,317.6 L249.9,320 L248,322.4 L246.1,324.8 L244.2,327.2 L242.1,329.6 L239.9,332 L237.8,334.4 L235.7,336.6 L233.5,338.8 L231.2,341.1 L228.9,343.4 L226.6,345.7 L224.2,348 L222,350.2 L219.8,352.3 L217.7,354.4 L215.4,356.7 L213.2,358.9 L211.1,361.1 L209.1,363.1 L207.1,365.2 L205,367.2 L203,369.3 L200.8,371.5 L198.7,373.6 L196.6,375.7 L194.4,377.9 L192.3,380 L190.1,382.2 L187.9,384.4 L185.7,386.5 L183.6,388.7 L181.4,390.9 L179.3,393.1 L177.1,395.4 L174.9,397.6 L172.8,399.9 L170.6,402.1 L168.5,404.3 L166.3,406.5 L164.2,408.5 L161.8,410.7 L159.4,412.8 L157,414.7 L154.7,416.7 L152.3,418.6 L150,420.6 L147.7,422.7 L145.4,424.9 L143.1,427.1 L140.8,429.5 L138.6,431.9 L136.3,434.3 L134.2,436.6 L132.2,438.8 L130.4,440.7 L128,443.1 L125.7,445.4 L123.9,447.2 L122,449 L122,449M122,347 L124.3,345 L126.6,343.1 L128.9,341.2 L131.2,339.3 L133.5,337.3 L135.8,335.3 L138.1,333.2 L140.3,331.1 L142.4,328.9 L144.5,326.7 L146.7,324.4 L148.8,322.1 L150.9,319.8 L153.1,317.5 L155.4,315.3 L157.7,313.1 L160,311 L162.4,309 L164.8,306.9 L167.3,304.9 L169.7,302.9 L172.2,300.9 L174.6,298.9 L177,296.9 L179.4,295 L181.8,293 L184.2,291.1 L186.5,289.2 L188.9,287.3 L191.3,285.4 L193.8,283.5 L196.2,281.5 L198.8,279.5 L201.5,277.5 L204.2,275.5 L206.8,273.5 L209.4,271.5 L211.9,269.7 L214.1,267.9 L216.8,265.9 L219.6,263.6 L219.6,263.6M236.9,252.3 L240,251 L243,249.9 L246.2,248.9 L249.4,248 L252.5,247.3 L255.6,246.7 L258.9,246.3 L262,246.2 L264.8,246.3 L267.7,247 L270.2,248.6 L272,251 L272.9,253.8 L273.3,257.2 L273,261 L272.3,263.7 L271.2,266.7 L269.9,269.8 L268.6,272.7 L267.3,275.5 L266.2,278 L264.8,280.5 L263,284 L261.8,286.3 L260.5,288.9 L259.1,291.7 L257.5,294.6 L255.9,297.6 L254.1,300.6 L252.3,303.5 L250.6,306 L248.9,308.4 L247,310.9 L245.1,313.4 L243.1,315.9 L241.1,318.3 L239,320.7 L236.9,323.1 L234.8,325.3 L232.7,327.4 L230.5,329.5 L228.2,331.6 L225.9,333.7 L223.6,335.8 L221.4,337.9 L219.2,339.9 L217,342.1 L214.8,344.4 L212.6,346.6 L210.4,348.9 L208.3,351.2 L206.2,353.4 L204,355.7 L201.9,357.9 L199.7,360.1 L197.6,362.3 L195.4,364.4 L193.3,366.6 L191.1,368.7 L189,370.8 L186.8,373 L184.6,375.2 L182.5,377.4 L180.3,379.5 L178.2,381.6 L176.1,383.8 L173.9,386 L171.7,388.2 L169.6,390.3 L167.4,392.5 L165.2,394.6 L162.9,396.8 L160.5,399 L158.1,401.2 L155.6,403.4 L153.3,405.6 L150.9,407.7 L148.7,409.8 L146.5,411.9 L144.1,414.3 L141.8,416.7 L139.5,419.1 L137.3,421.5 L135.3,423.7 L133.3,425.8 L131.5,427.7 L128.7,430.5 L126.4,432.8 L124.2,434.8 L122,437 L122,437M122,369 L123.7,367.5 L125.8,365.6 L128.5,363 L130.2,361.3 L132.2,359.3 L134.4,357 L136.7,354.7 L139.1,352.2 L141.5,349.9 L143.8,347.6 L146.1,345.5 L148.5,343.4 L150.9,341.3 L153.3,339.3 L155.8,337.3 L158.2,335.3 L160.6,333.3 L163,331.2 L165.4,329.2 L167.7,327.1 L169.9,325 L172.2,322.9 L174.4,320.8 L176.7,318.7 L179,316.6 L181.3,314.5 L183.7,312.5 L186.1,310.5 L188.5,308.4 L191.1,306.3 L193.6,304.3 L196.1,302.3 L198.5,300.3 L200.7,298.5 L202.7,296.9 L204.3,295.6M222.2,282.7 L224.8,281.5 L227.8,280.5 L231.1,280 L234,280.5 L236.8,282.1 L239.2,284.6 L240.4,287.3 L240.7,290.3 L240.4,293.5 L239.5,296.4 L238.2,298.8 L236.1,301.8 L233.9,304.7 L232.4,306.8 L230.7,309.2 L228.9,311.7 L226.9,314.3 L224.8,317 L222.7,319.7 L220.6,322.3 L218.8,324.5 L216.9,326.7 L215,329 L213,331.4 L211,333.7 L208.9,336 L206.8,338.3 L204.8,340.5 L202.7,342.7 L200.5,344.9 L198.2,347.2 L195.9,349.3 L193.6,351.5 L191.3,353.6 L189,355.7 L186.8,357.8 L184.6,359.9 L182.4,362.1 L180.1,364.4 L177.9,366.7 L175.8,368.9 L173.6,371.2 L171.5,373.5 L169.4,375.8 L167.3,378 L165.2,380.4 L163.1,382.7 L161.1,385.1 L159.1,387.5 L157.1,389.9 L155.1,392.2 L153,394.5 L150.9,396.8 L148.7,399 L146.2,401.2 L143.7,403.5 L141,405.7 L138.4,407.8 L135.9,409.8 L133.6,411.7 L131.5,413.4 L128.8,415.8 L126.2,418.1 L124.1,420 L122,422 L122,422M268.5,492 L268.5,489 L268.5,485.9 L268.5,482.7 L268.5,479.5 L268.5,476.2 L268.5,473 L268.5,469.7 L268.5,466.4 L268.5,463.1 L268.5,459.8 L268.5,456.5 L268.5,453.2 L268.5,450 L268.5,446.9 L268.5,443.8 L268.5,440.7 L268.5,437.8 L268.5,434.9 L268.5,432.1 L268.5,429.5 L268.5,426.9 L268.5,424.5 L268.5,422.2 L268.5,420 L268.5,414.9 L268.5,410.7 L268.6,407.1 L268.6,404.1 L268.6,401.5 L268.7,399.2 L268.7,396.9 L268.9,394.6 L269,392 L269.2,388.4 L269.5,385.2 L269.8,382.1 L270.1,379.1 L270.6,376.1 L271.2,372.9 L271.8,369.8 L272.5,366.8 L273.3,363.8 L274.1,360.7 L275,357.6 L276,354.4 L276.9,351.3 L277.8,348.2 L278.7,345.2 L279.6,342.2 L280.5,339.2 L281.4,336.2 L282.3,333.2 L283.2,330.2 L284.3,327.2 L285.4,324.2 L286.6,321.3 L287.7,318.6 L289,315.8 L290.3,313.1 L291.7,310.3 L293.1,307.5 L294.5,304.8 L296,302.1 L297.4,299.4 L298.8,296.7 L300.3,294.1 L301.9,291.4 L303.4,288.8 L304.9,286.3 L306.5,283.7 L308.1,281.2 L309.7,278.6 L311.3,276 L312.9,273.4 L314.6,270.8 L316.3,268.1 L318,265.5 L319.8,262.9 L321.5,260.3 L323.2,257.7 L324.9,255.1 L326.6,252.5 L328.3,250 L329.9,247.4 L331.5,244.9 L333.2,242.4 L334.8,239.9 L336.5,237.4 L338.3,235 L340.2,232.7 L342.2,230.4 L344.3,228.2 L346.5,226 L348.7,223.8 L350.9,221.7 L353.2,219.7 L355.4,217.6 L357.6,215.6 L359.9,213.5 L362.2,211.3 L364.4,209.1 L366.7,207 L368.9,204.9 L371.3,202.9 L373.7,200.8 L376.3,198.8 L378.7,197 L381.3,195.3 L383.9,193.5 L386.7,191.8 L389.4,190.1 L392.2,188.4 L394.9,186.7 L397.7,185.2 L400.4,183.6 L403.2,182.1 L405.9,180.6 L408.7,179.1 L411.5,177.7 L414.3,176.4 L417.1,175 L420,173.6 L422.8,172.3 L425.5,171 L428.3,169.7 L431.1,168.5 L433.9,167.2 L436.8,166 L439.7,164.8 L442.6,163.6 L445.5,162.5 L448.4,161.5 L451.4,160.5 L454.5,159.6 L457.7,158.6 L460.9,157.7 L464,156.9 L467,156.1 L469.9,155.3 L472.6,154.6 L475,154 L475,154M493.1,150.5 L496.3,150.1 L499.6,149.8 L502.8,149.4 L506,149 L506,149M295,492 L295,489 L295,485.9 L295.1,482.8 L295.1,479.6 L295.1,476.4 L295.1,473.2 L295.1,469.9 L295.2,466.7 L295.2,463.4 L295.2,460.2 L295.2,457 L295.2,453.8 L295.3,450.6 L295.3,447.5 L295.3,444.4 L295.3,441.3 L295.4,438.4 L295.4,435.5 L295.4,432.7 L295.4,429.9 L295.4,427.3 L295.5,424.7 L295.5,422.3 L295.5,420 L295.5,415.7 L295.6,411.8 L295.6,408.2 L295.7,404.9 L295.7,401.8 L295.7,398.9 L295.8,396.2 L295.8,393.7 L295.8,391.2 L295.9,388.7 L295.9,386.3 L296,383.8 L296.1,380.2 L296.1,376.9 L296.2,373.8 L296.2,370.9 L296.3,368 L296.4,365.2 L296.6,362.3 L296.9,359.2 L297.3,356.2 L297.7,353.1 L298.2,350.1 L298.7,347 L299.3,343.9 L299.9,340.8 L300.4,337.8 L301,334.8 L301.6,331.8 L302.1,328.7 L302.6,325.7 L303.1,322.7 L303.7,319.8 L304.3,316.9 L305,314 L305.8,311.1 L306.7,308.1 L307.7,305.2 L308.8,302.3 L309.9,299.4 L311.2,296.5 L312.5,293.6 L313.9,290.7 L315.3,287.9 L316.7,285.2 L318.2,282.6 L319.7,280 L321.3,277.4 L323,274.8 L324.7,272.2 L326.3,269.7 L328,267.2 L329.6,264.8 L331.3,262.1 L333,259.4 L334.7,256.8 L336.3,254.2 L338.1,251.6 L339.9,249.1 L341.9,246.5 L343.9,244.1 L345.9,241.9 L348,239.6 L350.2,237.4 L352.5,235.2 L354.8,233 L357.1,230.8 L359.5,228.7 L361.8,226.7 L364.2,224.8 L366.7,222.8 L369.3,220.9 L371.9,219.1 L374.5,217.4 L377.1,215.7 L379.8,214.1 L382.4,212.5 L385.1,210.9 L387.9,209.2 L390.6,207.6 L393.4,206.1 L396.2,204.6 L399,203.2 L401.9,202 L404.8,200.8 L407.8,199.7 L410.9,198.8 L414,197.9 L417.2,197.1 L420.3,196.4 L423.4,195.9 L426.4,195.5 L429.6,195.3 L432.9,195.4 L436.1,195.6 L439.3,196 L442.4,196.6 L445.3,197.3 L448,198 L451.3,199.1 L454.4,200.4 L457.3,201.8 L459.8,203.4 L462,205 L464.4,207.1 L466.1,209.2 L467.4,212.1 L468.3,215.1 L468.8,217.6 L469.2,220.5 L469.5,223.5 L469.8,226.7 L470,230 L470.3,233.3 L470.7,236.5 L471,239.4 L471.3,242.5 L471.6,245.7 L471.9,248.8 L472.2,252.1 L472.5,255.3 L472.8,258.4 L473.2,261.5 L473.6,264.6 L474,267.6 L474.4,270.5 L474.8,273.5 L475.2,276.6 L475.5,279.8 L475.9,283.2 L476.1,286.4 L476.3,289.3 L476.5,292.3 L476.6,295.5 L476.8,298.7 L476.9,301.9 L477,305.1 L477.2,308.4 L477.3,311.5 L477.4,314.6 L477.5,317.5 L477.6,320.7 L477.8,323.8 L477.9,326.8 L478.1,329.7 L478.2,332.5 L478.3,335.5 L478.4,338.5 L478.5,341.6 L478.5,345 L478.5,346.4M477.8,370.3 L477.7,373.5 L477.6,376.7 L477.5,380 L477.4,382.8 L477.3,385.6 L477.2,388.2 L477,390.9 L476.9,393.6 L476.8,396.3 L476.6,399.1 L476.5,402.1 L476.4,405.2 L476.3,408.5 L476.2,412 L476.1,415.9 L476,420 L476,422.4 L475.9,424.9 L475.9,427.5 L475.9,430.1 L475.9,432.9 L475.9,435.8 L475.9,438.7 L475.9,441.6 L475.9,444.7 L475.9,447.7 L475.9,450.8 L475.9,454 L475.9,457.2 L475.9,460.4 L475.9,463.6 L475.9,466.8 L476,470 L476,473.2 L476,476.5 L476,479.6 L476,482.8 L476,485.9 L476,489 L476,492 L476,492M317.5,492 L317.5,489 L317.5,485.9 L317.5,482.8 L317.5,479.6 L317.5,476.5 L317.5,473.3 L317.5,470.1 L317.5,466.9 L317.4,463.7 L317.4,460.5 L317.4,457.4 L317.4,454.2 L317.4,451 L317.4,447.9 L317.4,444.8 L317.4,441.7 L317.4,438.7 L317.4,435.7 L317.4,432.7 L317.4,429.8 L317.4,427 L317.4,424.2 L317.5,421.5 L317.5,418.8 L317.5,416.3 L317.5,413.1 L317.6,409.3 L317.6,405.7 L317.7,402.1 L317.8,398.7 L317.8,395.3 L317.9,392.1 L318,388.9 L318.1,385.9 L318.2,382.9 L318.2,380.1 L318.3,377.3 L318.4,374.6 L318.5,372.1 L318.6,369.6 L318.7,367.3 L318.8,365 L318.9,360.6 L319,356.9 L319.1,353.9 L319.3,351.2 L319.4,348.7 L319.6,346.2 L319.9,343.5 L320.2,340.4 L320.5,337.3 L320.9,334.2 L321.3,331.1 L321.7,327.9 L322.3,324.8 L322.8,321.6 L323.5,318.3 L324.1,315.4 L324.8,312.4 L325.6,309.3 L326.3,306.2 L327.2,303.2 L328,300.1 L328.9,297.1 L329.9,294.2 L330.9,291.3 L332,288.4 L333.2,285.5 L334.4,282.6 L335.7,279.9 L337,277.1 L338.4,274.4 L339.8,271.8 L341.3,269.1 L342.9,266.5 L344.5,263.8 L346.1,261.3 L347.9,258.8 L349.8,256.3 L351.8,253.9 L354,251.5 L356.1,249.4 L358.4,247.2 L360.8,245.1 L363.3,243 L365.8,240.9 L368.4,239 L371.1,237.2 L373.7,235.6 L376.4,234 L379.3,232.6 L382.3,231.3 L385.4,230.1 L388.5,229.1 L391.4,228.2 L394.2,227.5 L396.8,226.9 L400,226.5 L403.5,226.5 L406.6,227.1 L409.4,228 L412,229 L415,230.3 L417.6,232 L420,234.5 L421.8,237.3 L423,239.4 L424.2,241.7 L425.4,244.3 L426.6,247.2 L427.7,250.6 L428.7,254.4 L429.5,257.7 L430,260.2 L430.4,262.9 L430.9,265.7 L431.4,268.8 L431.8,271.9 L432.3,275.1 L432.7,278.4 L433.1,281.7 L433.5,285 L433.9,288.2 L434.3,291.4 L434.6,294.5 L435,297.5 L435.4,300.6 L435.7,303.8 L436.1,306.9 L436.4,310 L436.7,313.1 L437,316.2 L437.3,319.2 L437.5,322.2 L437.8,325.1 L438,328 L438.2,330.9 L438.4,333.6 L438.6,336.7 L438.8,339.9 L439,343 L439.1,346.1 L439.3,349 L439.4,351.9 L439.4,354.8 L439.5,357.7 L439.5,360.6 L439.5,363.5 L439.5,366.5 L439.4,369.5 L439.3,372.4 L439.3,372.4M438,395 L437.9,397.8 L437.8,400.5 L437.8,403.1 L437.7,405.7 L437.7,408.4 L437.6,411.2 L437.6,414.1 L437.6,417.2 L437.6,420.5 L437.5,424.1 L437.5,427.9 L437.5,431.2 L437.5,433.7 L437.5,436.3 L437.5,439 L437.5,441.8 L437.5,444.7 L437.5,447.7 L437.5,450.7 L437.5,453.8 L437.5,456.9 L437.5,460.1 L437.5,463.3 L437.5,466.6 L437.5,469.8 L437.5,473 L437.5,476.3 L437.5,479.5 L437.5,482.7 L437.5,485.8 L437.5,488.9 L437.5,492 L437.5,492M346.5,492 L346.5,488.9 L346.6,485.8 L346.6,482.6 L346.6,479.5 L346.6,476.3 L346.6,473.1 L346.7,469.9 L346.7,466.7 L346.7,463.5 L346.7,460.4 L346.7,457.3 L346.8,454.3 L346.8,451.3 L346.9,448.3 L346.9,445.5 L346.9,442.7 L347,440 L347.1,436.5 L347.2,433.1 L347.4,429.9 L347.5,426.8 L347.7,423.7 L347.9,420.8 L348,417.9 L348.2,415 L348.3,412.2 L348.4,409.3 L348.5,406.4 L348.5,403.5 L348.5,400.4 L348.4,397.2 L348.2,394 L348,390.7 L347.8,387.5 L347.5,384.2 L347.3,381 L347,377.9 L346.8,374.8 L346.7,371.8 L346.5,369 L346.5,366.3 L346.5,363 L346.8,359.4 L347.1,356.1 L347.5,353.1 L347.9,350.2 L348.4,347.3 L348.9,344.4 L349.4,341.3 L349.8,338.3 L350.2,335.2 L350.6,332 L351,328.9 L351.5,325.8 L352,322.7 L352.6,319.7 L353.3,316.7 L354.1,313.5 L355.1,310.2 L356.1,306.9 L357.2,303.6 L358.3,300.6 L359.4,297.8 L360.5,295.3 L362,292.2 L364,289.4 L365.9,287.5 L368,286 L371.4,284.5 L375,283.9 L378.3,284.3 L381.3,285.8 L384,288 L385.7,290 L387.2,292.4 L388.8,296.5 L389.5,298.9 L390.4,301.6 L391.2,304.7 L392,308 L392.8,311.4 L393.6,314.8 L394.3,318 L394.9,321.1 L395.4,324.2 L395.8,327.2 L396.2,330.2 L396.6,333.2 L396.9,336.3 L397.2,339.3 L397.5,342.3 L397.8,345.3 L398.1,348.2 L398.3,351 L398.5,353.9 L398.7,356.9 L398.9,360 L399,363.3 L399,366.3 L399,369.1 L399,371.9 L399,374.8 L398.9,377.7 L398.8,380.8 L398.8,383.8 L398.7,387 L398.6,390.2 L398.5,393.4 L398.5,396.4 L398.4,399.1 L398.4,399.1M398,424.1 L398,427.9 L398,431.2 L398,433.7 L398,436.3 L398,439 L398,441.8 L398,444.7 L398,447.7 L398,450.7 L398,453.8 L398,456.9 L398,460.1 L398,463.3 L398,466.6 L398,469.8 L398,473 L398,476.3 L398,479.5 L398,482.7 L398,485.8 L398,488.9 L398,492 L398,492" fill="none" stroke="#0d0de2" stroke-width="3.9" stroke-dasharray="13 11.5"/>
<path clip-path="url(#clip581)" d="M122,735 L123.9,732.9 L126,730.6 L128.5,728 L130.3,726 L132.4,723.9 L134.6,721.5 L137,719.1 L139.5,716.7 L142.1,714.4 L144.3,712.6 L146.5,710.8 L148.9,709 L151.3,707.1 L153.7,705.3 L156.2,703.5 L158.8,701.8 L161.3,700 L163.8,698.3 L166.4,696.5 L169,694.8 L171.7,693.1 L174.3,691.4 L177,689.7 L179.7,688.1 L182.5,686.5 L185.1,685 L187.8,683.6 L190.5,682.2 L193.2,680.8 L195.9,679.4 L198.7,678.1 L201.4,676.8 L204.2,675.6 L207,674.4 L209.8,673.2 L212.7,672.1 L215.5,671 L218.4,670 L221.3,669 L224.2,668.1 L227.1,667.2 L230,666.5 L233.2,665.8 L236.5,665.3 L239.9,664.8 L243.2,664.4 L246.5,664.1 L249.6,663.8 L252.4,663.6 L255,663.5 L259.2,663.4 L262.6,663.6 L265.5,664.1 L268,665 L270.9,667 L273.2,669.8 L274.8,672.7 L275.8,675.5 L276.3,678.5 L276,682 L275.3,684.8 L274.2,687.8 L272.9,691 L271.6,694.2 L270.5,697.2 L269.5,700 L268.6,702.9 L267.6,705.8 L266.6,708.6 L265.4,711.4 L264.3,714 L263.1,716.5 L261.8,719.2 L260.4,722.2 L259,725 L257.8,727.7 L256.5,730.5 L255.1,733.4 L253.7,736.4 L252.2,739.5 L250.8,742.5 L249.3,745.3 L248,747.9 L246.6,750.6 L245.2,753.2 L243.7,755.9 L242.2,758.5 L240.7,761.2 L239.2,763.9 L237.7,766.5 L236.2,769.2 L234.7,771.8 L233.2,774.5 L231.6,777.1 L230,779.8 L228.4,782.4 L226.8,785 L225.2,787.6 L223.6,790.1 L221.9,792.7 L220.3,795.2 L218.6,797.7 L216.9,800.2 L215.2,802.7 L213.4,805.2 L211.6,807.8 L209.7,810.3 L207.8,812.8 L205.9,815.3 L203.9,817.8 L201.9,820.3 L199.9,822.8 L198,825.3 L196,827.7 L194.1,830.1 L192.2,832.5 L190.3,834.8 L188.4,837.2 L186.5,839.5 L184.5,841.9 L182.5,844.2 L180.5,846.5 L178.6,848.8 L176.5,851.1 L174.5,853.4 L172.4,855.7 L170.4,858 L168.3,860.3 L166.2,862.5 L164.2,864.6 L161.9,866.9 L159.6,869.2 L157.3,871.3 L155,873.4 L152.7,875.6 L150.4,877.7 L148.1,879.9 L145.9,882.1 L143.5,884.5 L141.2,887 L138.8,889.5 L136.6,892 L134.4,894.3 L132.4,896.4 L130.6,898.3 L127.9,901.1 L125.8,903.2 L124,905 L122,907 L122,907M122,759 L124.3,756.9 L126.6,754.7 L128.9,752.6 L131.3,750.5 L133.6,748.4 L136.1,746.3 L138.5,744.2 L140.8,742.3 L143.2,740.5 L145.6,738.6 L148.1,736.7 L150.7,734.8 L153.3,732.7 L155.7,730.8 L158,729 L160.3,727 L162.7,725 L165.1,723.1 L167.6,721.1 L170,719.1 L172.4,717.2 L174.8,715.4 L177.3,713.6 L179.9,711.8 L182.4,710 L184.9,708.3 L187.4,706.6 L190,705 L192.5,703.4 L195,701.9 L197.7,700.3 L200.5,698.7 L203.3,697.1 L206.1,695.7 L208.9,694.3 L211.5,693 L214,691.8 L216.9,690.6 L220.1,689.4 L221.6,688.9M238.6,687.2 L241.7,687.7 L244.8,688.5 L247.8,690 L250,692 L251.7,694.6 L252.8,697.9 L253,701.2 L252.8,704.2 L252.3,707.5 L251.8,710.8 L251.2,713.8 L250.7,716.9 L250.2,719.4 L249,723 L248.2,725.2 L247.2,727.7 L246.2,730.5 L244.9,733.5 L243.6,736.5 L242.1,739.6 L240.7,742.4 L239.3,744.9 L237.8,747.4 L236.2,750.1 L234.5,752.7 L232.9,755.4 L231.2,758.1 L229.5,760.7 L227.9,763.3 L226.2,766 L224.6,768.7 L223,771.3 L221.3,774 L219.7,776.6 L218,779.2 L216.2,781.8 L214.4,784.4 L212.6,786.8 L210.7,789.2 L208.8,791.6 L206.8,793.9 L204.8,796.3 L202.8,798.6 L200.8,800.9 L198.9,803.2 L196.9,805.6 L194.8,808.1 L192.8,810.5 L190.7,812.9 L188.7,815.3 L186.6,817.7 L184.6,820.1 L182.5,822.5 L180.5,824.9 L178.5,827.3 L176.5,829.6 L174.5,832 L172.5,834.3 L170.4,836.7 L168.4,839 L166.3,841.3 L164.2,843.6 L162.1,845.8 L160,848 L157.8,850.2 L155.6,852.4 L153.4,854.5 L151.3,856.6 L149.1,858.7 L147,860.8 L144.6,863.1 L142,865.5 L139.5,867.8 L137,870.1 L134.6,872.3 L132.4,874.3 L130.5,876.2 L128,878.6 L125.7,881 L123.9,883 L122,885 L122,885M122,782 L124.3,779.9 L126.6,777.7 L128.8,775.6 L131.1,773.5 L133.4,771.4 L135.7,769.2 L138,767.1 L140.3,765 L142.6,762.9 L144.8,760.9 L147.1,758.8 L149.4,756.8 L151.7,754.7 L154.1,752.6 L156.4,750.6 L158.6,748.6 L160.9,746.5 L163.2,744.5 L165.5,742.4 L167.7,740.4 L170,738.4 L172.3,736.5 L174.6,734.6 L177.1,732.8 L179.6,730.9 L182.1,729.1 L184.6,727.4 L187.2,725.8 L189.8,724.2 L192.4,722.7 L195,721.2 L196.4,720.4M210.2,714.2 L212.9,713.3 L215.2,712.5 L219.4,711.5 L222.4,711.5 L225,712.5 L227.3,714.2 L229.3,716.6 L230.6,720 L230.8,723.1 L230.6,725.7 L230.2,728.6 L229.6,731.7 L228.8,734.9 L227.8,738.2 L226.6,741.4 L225.4,744.3 L224.1,746.9 L222.7,749.5 L221.1,752.1 L219.4,754.8 L217.6,757.4 L215.9,760 L214.2,762.6 L212.5,765.2 L210.8,767.9 L209.2,770.5 L207.6,773.2 L205.9,775.8 L204.3,778.4 L202.5,781 L200.7,783.6 L198.8,786.2 L197,788.6 L195,790.9 L193,793.3 L191,795.7 L188.9,798 L186.8,800.4 L184.7,802.7 L182.6,805 L180.6,807.3 L178.5,809.7 L176.5,812 L174.4,814.3 L172.4,816.5 L170.4,818.8 L168.4,821 L166.3,823.2 L164.3,825.4 L162.2,827.7 L160,830 L157.9,832.2 L155.7,834.5 L153.5,836.7 L151.3,839 L149.2,841.2 L147.1,843.3 L144.9,845.6 L142.5,847.9 L140.1,850.3 L137.8,852.7 L135.5,855 L133.3,857.1 L131.3,859.1 L129.6,860.8 L126.4,863.9 L124.2,865.9 L122,868 L122,868M122,804 L123.9,802.2 L125.8,800.5 L128.7,797.7 L130.4,796 L132.3,794 L134.4,791.8 L136.7,789.4 L139.1,787 L141.5,784.6 L144,782.3 L146.2,780.3 L148.6,778.2 L151,776.1 L153.5,774 L156,771.9 L158.5,769.8 L160.9,767.9 L163.3,766 L166,764 L168.8,761.9 L171.6,760 L174.3,758.2 L176.9,756.5 L179.3,754.9 L181.5,753.5 L185.2,751.2 L186.7,750.3M195.7,764.6 L193.4,767.2 L191.3,769.8 L189.7,772 L187.9,774.5 L186,777 L183.9,779.8 L181.7,782.7 L179.8,785.3 L178,787.6 L176.2,790.1 L174.3,792.6 L172.3,795.2 L170.3,797.8 L168.3,800.4 L166.2,803 L164.2,805.4 L162.1,807.8 L160,810.2 L157.8,812.5 L155.5,814.8 L153.3,817.1 L151.1,819.4 L149,821.5 L147,823.6 L144.7,825.9 L142.3,828.4 L139.9,830.7 L137.6,833 L135.5,835.1 L133.4,837.1 L131.5,839 L128.8,841.6 L126.4,843.8 L124.3,845.9 L122,848 L122,848M231,964 L231,960.9 L231,957.8 L230.9,954.6 L230.9,951.4 L230.9,948.2 L230.8,944.9 L230.8,941.6 L230.8,938.3 L230.7,934.9 L230.7,931.6 L230.7,928.3 L230.6,925.1 L230.6,921.8 L230.6,918.6 L230.5,915.5 L230.5,912.4 L230.5,909.4 L230.5,906.5 L230.5,903.6 L230.5,900.9 L230.5,898.3 L230.5,895.7 L230.5,893.3 L230.5,891.1 L230.5,887.5 L230.6,883.1 L230.7,879.3 L230.8,876 L231,873.2 L231.1,870.7 L231.3,868.4 L231.5,866.1 L231.7,863.8 L231.9,861.3 L232.1,858.3 L232.4,855.1 L232.6,852 L232.9,849 L233.2,846 L233.6,843 L234,840 L234.6,836.7 L235.3,833.7 L236,830.9 L236.8,828 L237.6,825 L238.5,822 L239.5,819 L240.5,816 L241.4,813 L242.4,810.1 L243.3,807.3 L244.2,804.6 L245.2,801.5 L246.2,798.5 L247.2,795.7 L248.2,792.9 L249.2,790.2 L250.2,787.5 L251.3,784.8 L252.3,782 L253.5,779.2 L254.7,776.3 L256,773.3 L257.3,770.4 L258.6,767.4 L259.9,764.5 L261.2,761.7 L262.4,759 L263.5,756.5 L265,753.1 L266.3,749.8 L267.6,746.8 L268.7,743.9 L269.9,741.3 L271,739 L272.9,735.8 L274.6,733.5 L276.7,730.4 L278,728.2 L279.4,725.7 L280.8,723 L282.5,720.1 L284.3,717.1 L286.3,714 L287.9,711.7 L289.7,709.3 L291.5,706.8 L293.5,704.2 L295.5,701.6 L297.6,699 L299.7,696.5 L301.7,694.1 L303.8,691.7 L305.9,689.2 L308,686.8 L310.2,684.4 L312.3,682.1 L314.5,679.9 L316.7,677.7 L318.9,675.6 L321.2,673.6 L323.6,671.6 L325.9,669.7 L328.3,667.9 L330.7,666.2 L333.2,664.5 L335.7,662.9 L338.3,661.2 L340.8,659.6 L343.4,658.1 L346,656.6 L348.7,655.1 L351.4,653.7 L354.1,652.2 L356.8,650.9 L359.4,649.6 L362.4,648.2 L365.3,646.9 L368.3,645.6 L371.2,644.4 L374.2,643.3 L377.1,642.1 L380,641 L382.9,639.9 L385.8,638.9 L388.6,637.9 L391.5,636.9 L394.3,635.9 L397.1,635 L400,634 L402.8,633 L405.6,632 L408.4,631 L411.3,630 L414.1,629.1 L417,628.2 L420,627.5 L422.9,626.9 L426,626.5 L429.2,626 L432.4,625.7 L435.5,625.4 L438.4,625.2 L441.2,625.1 L444.3,624.9 L447.6,624.9 L450.6,624.9 L453.4,625.2 L456.1,625.7 L459,626.5 L462,627.6 L464.9,629.1 L467.6,630.7 L470,632.5 L472.4,634.5 L474.5,636.7 L476.2,639.2 L477.5,642.5 L478.1,645 L478.5,647.8 L478.7,650.8 L478.8,654 L478.9,657.3 L478.8,660.8 L478.7,663.9 L478.5,667 L478.1,670.2 L477.7,673.5 L477.3,676.8 L476.9,680.1 L476.5,683.2 L476.1,686.1 L475.8,689.3 L475.6,692.6 L475.5,695.5 L475.4,698.4 L475.2,701.5 L475,705 L474.8,707.6 L474.5,710.1 L474.2,712.7 L473.8,715.5 L473.5,718.5 L473.2,721.8 L472.8,725.6 L472.5,730 L472.3,732.4 L472.2,734.9 L472,737.5 L471.8,740.3 L471.7,743.2 L471.5,746.1 L471.3,749.2 L471.2,752.3 L471,755.5 L470.8,758.8 L470.7,762 L470.5,765.3 L470.4,768.6 L470.3,771.9 L470.2,775.2 L470,778.4 L470,781.5 L469.9,784.4 L469.8,787.3 L469.8,790.2 L469.7,793.2 L469.7,796.1 L469.7,799.1 L469.7,802.1 L469.6,805.1 L469.6,808.1 L469.6,811.1 L469.6,814.2 L469.6,817.3 L469.6,820.4 L469.6,823.6 L469.6,826.8 L469.5,830.1 L469.5,833.3 L469.5,836.4 L469.5,839.2 L469.4,842.1 L469.4,845 L469.3,848 L469.3,850.9 L469.3,853.9 L469.2,857 L469.2,860 L469.1,863.1 L469.1,866.2 L469.1,869.3 L469,872.4 L469,875.5 L468.9,878.6 L468.9,881.7 L468.9,884.7 L468.8,887.8 L468.8,890.9 L468.8,894 L468.8,897 L468.8,900 L468.7,903.1 L468.7,906.1 L468.7,909.2 L468.7,912.3 L468.7,915.3 L468.7,918.4 L468.7,921.4 L468.7,924.5 L468.7,927.5 L468.7,930.5 L468.7,933.6 L468.7,936.6 L468.7,939.7 L468.7,942.7 L468.7,945.7 L468.7,948.8 L468.7,951.8 L468.7,954.9 L468.7,957.9 L468.7,961 L468.7,961M253.8,964 L253.8,961 L253.8,957.9 L253.8,954.8 L253.8,951.7 L253.8,948.5 L253.8,945.3 L253.8,942.1 L253.8,938.9 L253.8,935.6 L253.8,932.4 L253.8,929.2 L253.8,926 L253.8,922.7 L253.8,919.6 L253.8,916.4 L253.8,913.3 L253.8,910.2 L253.8,907.1 L253.8,904.1 L253.8,901.2 L253.8,898.3 L253.8,895.4 L253.8,892.7 L253.8,890 L253.8,887.3 L253.8,884.8 L253.8,882.4 L253.8,880 L253.7,875.8 L253.7,871.9 L253.7,868.1 L253.7,864.6 L253.7,861.2 L253.6,858 L253.6,855 L253.6,852.1 L253.6,849.3 L253.6,846.7 L253.6,844.2 L253.6,841.8 L253.6,839.4 L253.7,837.2 L253.8,835 L253.9,830.5 L254.2,826.9 L254.5,823.9 L254.9,821.3 L255.3,818.8 L255.7,816.3 L256.3,813.4 L257.1,810.6 L257.9,807.9 L258.7,805.2 L259.7,802.3 L260.6,798.8 L261.2,796.2 L261.8,793.3 L262.3,790.2 L262.9,787 L263.5,783.7 L264.2,780.4 L265,777.3 L265.8,774.3 L266.9,771.4 L268.1,768.4 L269.5,765.6 L270.9,762.9 L272.4,760.2 L274,757.5 L275.5,754.8 L277,752 L278.4,749.3 L279.7,746.4 L281.1,743.6 L282.5,740.7 L283.9,737.9 L285.3,735.1 L286.8,732.4 L288.3,729.8 L290.1,727 L291.8,724.4 L293.6,721.9 L295.4,719.5 L297.4,717.1 L299.5,714.6 L301.7,712 L303.6,709.9 L305.6,707.7 L307.6,705.5 L309.8,703.3 L312,701.1 L314.2,698.9 L316.5,696.8 L318.7,694.8 L321,692.9 L323.5,690.9 L326.1,689 L328.7,687.2 L331.3,685.5 L334,683.9 L336.6,682.3 L339.3,680.8 L342,679.4 L344.9,678 L348,676.6 L351.1,675.4 L354.2,674.2 L357.2,673.1 L360.2,672.1 L362.9,671.2 L366,670.2 L369.4,669.3 L372.5,668.5 L375.5,668 L378.5,667.6 L381.5,667.4 L384.6,667.5 L387.7,667.7 L390.7,668.1 L393.6,668.6 L396.5,669.4 L399.5,670.4 L402.4,671.6 L405,673.1 L407.5,675 L409.5,677 L411.4,679.3 L413.1,681.8 L414.7,684.6 L416,687.5 L417,690.1 L417.8,692.7 L418.5,695.4 L419,698.6 L419.7,702.6 L420.2,706.1 L420.5,708.4 L420.8,710.9 L421.1,713.5 L421.5,716.2 L421.8,719 L422.1,722 L422.4,725.1 L422.7,728.3 L423,731.7 L423.3,735.2 L423.5,738.8 L423.8,742.5 L423.9,745.1 L424,747.8 L424.1,750.7 L424.2,753.7 L424.3,756.8 L424.4,759.9 L424.4,763.2 L424.5,766.5 L424.6,769.8 L424.6,773.1 L424.7,776.4 L424.7,779.6 L424.8,782.8 L424.8,786 L424.9,789 L424.9,792 L424.9,794.8 L425,797.5 L425,800 L425,803.8 L425.1,807 L425.1,810 L425.1,812.7 L425.2,815.2 L425.2,817.7 L425.1,820.2 L425.1,822.9 L425.1,825.8 L425.1,829.1 L425,832.9 L425,835M424.6,857 L424.5,860.1 L424.4,863.3 L424.4,866.5 L424.3,869.7 L424.2,873 L424.1,876.2 L424.1,879.5 L424,882.7 L424,885.9 L423.9,889.1 L423.8,892.3 L423.8,895.4 L423.8,898.5 L423.7,901.5 L423.7,904.6 L423.7,907.7 L423.7,910.7 L423.7,913.8 L423.7,916.8 L423.7,919.9 L423.7,922.9 L423.7,926 L423.7,929 L423.7,932.1 L423.7,935.1 L423.7,938.1 L423.7,941.2 L423.7,944.2 L423.7,947.3 L423.7,950.3 L423.7,953.3 L423.7,956.4 L423.7,959.4 L423.7,962.5 L423.8,964M272.5,964 L272.5,961 L272.5,957.9 L272.5,954.8 L272.5,951.7 L272.5,948.6 L272.5,945.4 L272.5,942.2 L272.5,939 L272.5,935.8 L272.5,932.6 L272.5,929.4 L272.5,926.2 L272.5,923 L272.5,919.9 L272.5,916.7 L272.5,913.6 L272.5,910.5 L272.5,907.5 L272.5,904.5 L272.5,901.5 L272.5,898.6 L272.5,895.8 L272.5,893 L272.5,890.2 L272.5,887.5 L272.5,885 L272.5,882.4 L272.5,880 L272.5,876 L272.5,872.2 L272.5,868.6 L272.5,865.2 L272.5,861.8 L272.5,858.6 L272.5,855.6 L272.5,852.6 L272.5,849.7 L272.5,846.9 L272.5,844.2 L272.5,841.6 L272.5,838.9 L272.5,836.4 L272.5,833.8 L272.5,831.3 L272.5,828.1 L272.5,824.5 L272.4,821 L272.3,817.6 L272.2,814.4 L272.2,811.3 L272.1,808.3 L272.2,805.5 L272.2,802.7 L272.4,799.9 L272.7,797.3 L273.2,794.3 L274,791 L275,787.9 L276.1,785.1 L277.4,782.3 L278.6,779.7 L279.8,777 L281,774.4 L282.1,771.4 L283.1,768.4 L284.1,765.4 L285,762.4 L286.1,759.5 L287.2,756.5 L288.5,753.5 L289.8,750.7 L291.2,748.1 L292.7,745.4 L294.3,742.7 L295.9,740 L297.6,737.3 L299.3,734.7 L301,732.2 L302.7,729.8 L304.6,727.2 L306.5,724.8 L308.4,722.4 L310.4,720.2 L312.4,718 L314.5,715.9 L316.8,714 L319.2,712.1 L321.7,710.4 L324.5,708.8 L327.3,707.2 L330.2,705.8 L333,704.4 L335.7,703.1 L338.1,702 L341,700.7 L344.1,699.3 L346.7,698.3 L349.3,697.5 L352,697 L355.3,696.7 L358.7,696.7 L362.1,697.1 L365.2,697.7 L368.2,698.5 L371,699.6 L373.7,701 L376,703 L377.7,705.3 L379.1,707.9 L380.3,710.9 L381.4,714.2 L382.4,717.3 L383.1,720 L383.8,722.8 L384.4,725.8 L385,729.2 L385.7,732.9 L386.2,736.2 L386.6,738.6 L387,741 L387.5,743.5 L387.9,746.1 L388.3,748.9 L388.7,752 L389.1,755.3 L389.5,758.9 L389.8,763 L390,767.5 L390.1,769.8 L390.2,772.2 L390.2,774.8 L390.3,777.4 L390.3,780.2 L390.4,783.1 L390.4,786 L390.4,789 L390.4,792.1 L390.4,795.2 L390.5,798.4 L390.5,801.6 L390.5,804.9 L390.4,808.1 L390.4,811.4 L390.4,814.6 L390.4,817.9 L390.4,821.1 L390.4,824.3 L390.5,827.4 L390.5,830.5 L390.5,833.5 L390.5,836.5 L390.5,839.6 L390.6,842.7 L390.6,845.7 L390.7,848.8 L390.7,848.8M390.9,868.5 L391,871.5 L391,874.5 L391,877.5 L391.1,880.5 L391.1,883.5 L391.1,886.5 L391.2,889.5 L391.2,892.5 L391.2,895.5 L391.2,898.5 L391.3,901.5 L391.3,904.6 L391.3,907.7 L391.3,910.7 L391.3,913.8 L391.3,916.8 L391.3,919.9 L391.3,922.9 L391.3,926 L391.3,929 L391.3,932.1 L391.3,935.1 L391.3,938.1 L391.3,941.2 L391.3,944.2 L391.3,947.3 L391.3,950.3 L391.3,953.3 L391.3,956.4 L391.3,959.4 L391.3,962.5 L391.2,964M291,964 L291,961 L291,957.9 L291,954.9 L291,951.8 L291,948.7 L291,945.5 L291,942.4 L291,939.3 L291,936.1 L291,933 L291,929.8 L290.9,926.7 L290.9,923.6 L290.9,920.4 L290.9,917.3 L290.9,914.3 L290.9,911.2 L290.9,908.2 L290.9,905.1 L290.9,902.2 L290.9,899.2 L290.9,896.3 L290.9,893.5 L290.9,890.7 L291,887.9 L291,885.2 L291,882.6 L291,880 L291,876.3 L291.1,872.7 L291.1,869.2 L291.1,865.6 L291.2,862.2 L291.2,858.8 L291.2,855.4 L291.3,852.1 L291.3,848.9 L291.4,845.8 L291.4,842.7 L291.5,839.8 L291.6,836.9 L291.6,834.2 L291.7,831.5 L291.7,829 L291.8,826.5 L291.9,824.2 L292,822 L292.1,818.3 L292.3,814.1 L292.5,810.9 L292.8,808.4 L293,806.3 L293.4,804.1 L293.8,801.6 L294.2,798.6 L294.6,795.7 L295.1,792.6 L295.5,789.5 L296.1,786.3 L296.6,783.1 L297.3,779.9 L298,776.9 L298.8,774 L299.7,771 L300.7,768.1 L301.8,765.2 L303,762.3 L304.2,759.6 L305.6,756.9 L307,754.4 L308.5,752 L310.4,749.3 L312.6,746.7 L314.9,744.2 L317.2,741.9 L319.6,739.8 L321.8,737.9 L323.8,736.5 L327.4,734.7 L330.6,734.2 L333.6,734.3 L336.7,734.9 L339.8,736.2 L342.7,738.2 L345,740.5 L346.9,743 L348.5,745.9 L350,749 L351.3,751.6 L352.5,754.3 L353.6,757.5 L354.6,761.5 L355.1,763.9 L355.5,766.7 L355.9,769.6 L356.2,772.7 L356.6,775.9 L356.9,779.2 L357.2,782.4 L357.5,785.6 L357.8,788.6 L358.1,791.6 L358.3,794.7 L358.6,797.8 L358.8,800.9 L359,804 L359.2,807 L359.3,810 L359.4,813.1 L359.5,815.7 L359.4,818 L359.3,820.2 L359.2,822.7 L359.1,825.8 L359.1,829.8 L359,835 L359,837.1 L359,839.5 L359,841.9 L359,844.5 L359,847.3 L359,850.2 L359,853.1 L359,856.2 L359,859.3 L359,862.5 L359,865.8 L359,869.1 L359,869.1M359,893.8 L359,897 L359,900 L359,903.1 L359,906.1 L359,909.2 L359,912.3 L359,915.3 L359,918.4 L359,921.4 L359,924.5 L359,927.5 L359,930.5 L359,933.6 L359,936.6 L359,939.7 L359,942.7 L359,945.7 L359,948.8 L359,951.8 L359,954.9 L359,957.9 L359,961 L359,964 L359,964" fill="none" stroke="#0d0de2" stroke-width="3.9" stroke-dasharray="13 11.5"/>
<text x="273.8" y="192.3" font-size="22.8" text-anchor="middle" style="fill:#0d0de2;stroke:#0d0de2">1%</text>
<text x="243.8" y="233.3" font-size="22.8" text-anchor="middle" style="fill:#0d0de2;stroke:#0d0de2">2</text>
<text x="227.5" y="266" font-size="22.8" text-anchor="middle" style="fill:#0d0de2;stroke:#0d0de2">3</text>
<text x="212.5" y="297.5" font-size="22.8" text-anchor="middle" style="fill:#0d0de2;stroke:#0d0de2">4</text>
<text x="483" y="158.5" font-size="22.8" text-anchor="middle" style="fill:#0d0de2;stroke:#0d0de2">1</text>
<text x="480" y="368" font-size="22.8" text-anchor="middle" style="fill:#0d0de2;stroke:#0d0de2">2</text>
<text x="435" y="392.5" font-size="22.8" text-anchor="middle" style="fill:#0d0de2;stroke:#0d0de2">3</text>
<text x="398.8" y="421.5" font-size="22.8" text-anchor="middle" style="fill:#0d0de2;stroke:#0d0de2">4</text>
<text x="252.5" y="659.5" font-size="22.8" text-anchor="middle" style="fill:#0d0de2;stroke:#0d0de2">1%</text>
<text x="230.2" y="697.3" font-size="22.8" text-anchor="middle" style="fill:#0d0de2;stroke:#0d0de2">2</text>
<text x="208.5" y="731" font-size="22.8" text-anchor="middle" style="fill:#0d0de2;stroke:#0d0de2">3</text>
<text x="194.5" y="762" font-size="22.8" text-anchor="middle" style="fill:#0d0de2;stroke:#0d0de2">4</text>
<text x="425" y="853.5" font-size="22.8" text-anchor="middle" style="fill:#0d0de2;stroke:#0d0de2">2</text>
<text x="391.2" y="866" font-size="22.8" text-anchor="middle" style="fill:#0d0de2;stroke:#0d0de2">3</text>
<text x="358.8" y="891" font-size="22.8" text-anchor="middle" style="fill:#0d0de2;stroke:#0d0de2">4</text>
<polygon points="276.3,256.2 280.4,266.8 291.8,267.5 283,274.7 285.9,285.7 276.3,279.5 266.7,285.7 269.6,274.7 260.8,267.5 272.2,266.8" fill="#fbfb1e"/>
<polygon points="276,729.3 280.1,739.9 291.5,740.6 282.7,747.8 285.6,758.8 276,752.6 266.4,758.8 269.3,747.8 260.5,740.6 271.9,739.9" fill="#fbfb1e"/>
<path clip-path="url(#clip110)" d="M497,491L505,479.5" stroke="#0d0de2" stroke-width="3.9" fill="none"/>
<path clip-path="url(#clip581)" d="M497,962.5L505,951M126.2,906V962" stroke="#0d0de2" stroke-width="3.9" fill="none"/>
<path d="M129.8,903V962" stroke="#000" stroke-width="7" fill="none"/>
<text clip-path="url(#clip581)" x="143.4" y="958" font-size="19.5" text-anchor="end">71</text>
<rect x="125.5" y="117.5" width="312.5" height="33.3" fill="#fff"/>
<rect x="125.5" y="588.5" width="293.5" height="33" fill="#fff"/>
<text x="143" y="145.2" font-size="23.45">(a) Approximate, m at MPP</text>
<text x="143" y="615.8" font-size="23.45">(b) Approximate, m at OC</text>
<text x="461" y="320.5" font-size="22.5" text-anchor="middle">86</text>
<text x="417" y="347.5" font-size="22.5" text-anchor="middle">83</text>
<text x="375" y="379.5" font-size="22.5" text-anchor="middle">80</text>
<text x="322.5" y="411" font-size="22.5" text-anchor="middle">77</text>
<text x="222" y="439" font-size="22.5" text-anchor="middle">74%</text>
<text x="445.5" y="799" font-size="22.5" text-anchor="middle">89%</text>
<text x="340.5" y="821.7" font-size="22.5" text-anchor="middle">86</text>
<text x="304.5" y="844" font-size="22.5" text-anchor="middle">83</text>
<text x="272.5" y="863" font-size="22.5" text-anchor="middle">80</text>
<text x="246" y="894" font-size="22.5" text-anchor="middle">77</text>
<text x="206.5" y="915" font-size="22.5" text-anchor="middle">74</text>
<path d="M124,489.8L124,506.2M124,110.5L124,94.5M218.9,489.8L218.9,506.2M218.9,110.5L218.9,94.5M313.9,489.8L313.9,506.2M313.9,110.5L313.9,94.5M408.8,489.8L408.8,506.2M408.8,110.5L408.8,94.5M503.8,489.8L503.8,506.2M503.8,110.5L503.8,94.5M124,110.5L109,110.5M503.8,110.5L520.8,110.5M124,206.5L109,206.5M503.8,206.5L520.8,206.5M124,302.5L109,302.5M503.8,302.5L520.8,302.5M124,398.5L109,398.5M503.8,398.5L520.8,398.5" stroke="#000" stroke-width="3" fill="none"/>
<path d="M152.6,489.8L152.6,499.2M152.6,110.5L152.6,101M169.3,489.8L169.3,499.2M169.3,110.5L169.3,101M181.2,489.8L181.2,499.2M181.2,110.5L181.2,101M190.4,489.8L190.4,499.2M190.4,110.5L190.4,101M197.9,489.8L197.9,499.2M197.9,110.5L197.9,101M204.2,489.8L204.2,499.2M204.2,110.5L204.2,101M209.7,489.8L209.7,499.2M209.7,110.5L209.7,101M214.6,489.8L214.6,499.2M214.6,110.5L214.6,101M247.5,489.8L247.5,499.2M247.5,110.5L247.5,101M264.2,489.8L264.2,499.2M264.2,110.5L264.2,101M276.1,489.8L276.1,499.2M276.1,110.5L276.1,101M285.3,489.8L285.3,499.2M285.3,110.5L285.3,101M292.8,489.8L292.8,499.2M292.8,110.5L292.8,101M299.2,489.8L299.2,499.2M299.2,110.5L299.2,101M304.7,489.8L304.7,499.2M304.7,110.5L304.7,101M309.5,489.8L309.5,499.2M309.5,110.5L309.5,101M342.5,489.8L342.5,499.2M342.5,110.5L342.5,101M359.2,489.8L359.2,499.2M359.2,110.5L359.2,101M371,489.8L371,499.2M371,110.5L371,101M380.2,489.8L380.2,499.2M380.2,110.5L380.2,101M387.8,489.8L387.8,499.2M387.8,110.5L387.8,101M394.1,489.8L394.1,499.2M394.1,110.5L394.1,101M399.6,489.8L399.6,499.2M399.6,110.5L399.6,101M404.5,489.8L404.5,499.2M404.5,110.5L404.5,101M437.4,489.8L437.4,499.2M437.4,110.5L437.4,101M454.1,489.8L454.1,499.2M454.1,110.5L454.1,101M466,489.8L466,499.2M466,110.5L466,101M475.2,489.8L475.2,499.2M475.2,110.5L475.2,101M482.7,489.8L482.7,499.2M482.7,110.5L482.7,101M489,489.8L489,499.2M489,110.5L489,101M494.5,489.8L494.5,499.2M494.5,110.5L494.5,101M499.4,489.8L499.4,499.2M499.4,110.5L499.4,101M124,177.6L114.5,177.6M503.8,177.6L513.2,177.6M124,160.7L114.5,160.7M503.8,160.7L513.2,160.7M124,148.7L114.5,148.7M503.8,148.7L513.2,148.7M124,139.4L114.5,139.4M503.8,139.4L513.2,139.4M124,131.8L114.5,131.8M503.8,131.8L513.2,131.8M124,125.4L114.5,125.4M503.8,125.4L513.2,125.4M124,119.8L114.5,119.8M503.8,119.8L513.2,119.8M124,114.9L114.5,114.9M503.8,114.9L513.2,114.9M124,273.6L114.5,273.6M503.8,273.6L513.2,273.6M124,256.7L114.5,256.7M503.8,256.7L513.2,256.7M124,244.7L114.5,244.7M503.8,244.7L513.2,244.7M124,235.4L114.5,235.4M503.8,235.4L513.2,235.4M124,227.8L114.5,227.8M503.8,227.8L513.2,227.8M124,221.4L114.5,221.4M503.8,221.4L513.2,221.4M124,215.8L114.5,215.8M503.8,215.8L513.2,215.8M124,210.9L114.5,210.9M503.8,210.9L513.2,210.9M124,369.6L114.5,369.6M503.8,369.6L513.2,369.6M124,352.7L114.5,352.7M503.8,352.7L513.2,352.7M124,340.7L114.5,340.7M503.8,340.7L513.2,340.7M124,331.4L114.5,331.4M503.8,331.4L513.2,331.4M124,323.8L114.5,323.8M503.8,323.8L513.2,323.8M124,317.4L114.5,317.4M503.8,317.4L513.2,317.4M124,311.8L114.5,311.8M503.8,311.8L513.2,311.8M124,306.9L114.5,306.9M503.8,306.9L513.2,306.9M124,465.6L114.5,465.6M503.8,465.6L513.2,465.6M124,448.7L114.5,448.7M503.8,448.7L513.2,448.7M124,436.7L114.5,436.7M503.8,436.7L513.2,436.7M124,427.4L114.5,427.4M503.8,427.4L513.2,427.4M124,419.8L114.5,419.8M503.8,419.8L513.2,419.8M124,413.4L114.5,413.4M503.8,413.4L513.2,413.4M124,407.8L114.5,407.8M503.8,407.8L513.2,407.8M124,402.9L114.5,402.9M503.8,402.9L513.2,402.9" stroke="#000" stroke-width="2.4" fill="none"/>
<rect x="124" y="110.5" width="379.8" height="379.2" fill="none" stroke="#000" stroke-width="3"/>
<text x="106" y="534.5" font-size="23.3" text-anchor="start">10<tspan font-size="14.2" dx="-0.8" dy="-11">0</tspan></text>
<text x="200.9" y="534.5" font-size="23.3" text-anchor="start">10<tspan font-size="14.2" dx="-0.8" dy="-11">1</tspan></text>
<text x="295.9" y="534.5" font-size="23.3" text-anchor="start">10<tspan font-size="14.2" dx="-0.8" dy="-11">2</tspan></text>
<text x="390.8" y="534.5" font-size="23.3" text-anchor="start">10<tspan font-size="14.2" dx="-0.8" dy="-11">3</tspan></text>
<text x="484.8" y="534.5" font-size="23.3" text-anchor="start">10<tspan font-size="14.2" dx="-0.8" dy="-11">4</tspan></text>
<text x="67" y="118.8" font-size="23.3" text-anchor="start">10<tspan font-size="14.2" dx="-0.8" dy="-11">17</tspan></text>
<text x="67" y="214.8" font-size="23.3" text-anchor="start">10<tspan font-size="14.2" dx="-0.8" dy="-11">16</tspan></text>
<text x="67" y="310.8" font-size="23.3" text-anchor="start">10<tspan font-size="14.2" dx="-0.8" dy="-11">15</tspan></text>
<text x="67" y="406.8" font-size="23.3" text-anchor="start">10<tspan font-size="14.2" dx="-0.8" dy="-11">14</tspan></text>
<path d="M124,961.2L124,977.8M124,581.5L124,565.5M218.9,961.2L218.9,977.8M218.9,581.5L218.9,565.5M313.9,961.2L313.9,977.8M313.9,581.5L313.9,565.5M408.8,961.2L408.8,977.8M408.8,581.5L408.8,565.5M503.8,961.2L503.8,977.8M503.8,581.5L503.8,565.5M124,581.5L109,581.5M503.8,581.5L520.8,581.5M124,677.5L109,677.5M503.8,677.5L520.8,677.5M124,773.5L109,773.5M503.8,773.5L520.8,773.5M124,869.5L109,869.5M503.8,869.5L520.8,869.5" stroke="#000" stroke-width="3" fill="none"/>
<path d="M152.6,961.2L152.6,970.8M152.6,581.5L152.6,572M169.3,961.2L169.3,970.8M169.3,581.5L169.3,572M181.2,961.2L181.2,970.8M181.2,581.5L181.2,572M190.4,961.2L190.4,970.8M190.4,581.5L190.4,572M197.9,961.2L197.9,970.8M197.9,581.5L197.9,572M204.2,961.2L204.2,970.8M204.2,581.5L204.2,572M209.7,961.2L209.7,970.8M209.7,581.5L209.7,572M214.6,961.2L214.6,970.8M214.6,581.5L214.6,572M247.5,961.2L247.5,970.8M247.5,581.5L247.5,572M264.2,961.2L264.2,970.8M264.2,581.5L264.2,572M276.1,961.2L276.1,970.8M276.1,581.5L276.1,572M285.3,961.2L285.3,970.8M285.3,581.5L285.3,572M292.8,961.2L292.8,970.8M292.8,581.5L292.8,572M299.2,961.2L299.2,970.8M299.2,581.5L299.2,572M304.7,961.2L304.7,970.8M304.7,581.5L304.7,572M309.5,961.2L309.5,970.8M309.5,581.5L309.5,572M342.5,961.2L342.5,970.8M342.5,581.5L342.5,572M359.2,961.2L359.2,970.8M359.2,581.5L359.2,572M371,961.2L371,970.8M371,581.5L371,572M380.2,961.2L380.2,970.8M380.2,581.5L380.2,572M387.8,961.2L387.8,970.8M387.8,581.5L387.8,572M394.1,961.2L394.1,970.8M394.1,581.5L394.1,572M399.6,961.2L399.6,970.8M399.6,581.5L399.6,572M404.5,961.2L404.5,970.8M404.5,581.5L404.5,572M437.4,961.2L437.4,970.8M437.4,581.5L437.4,572M454.1,961.2L454.1,970.8M454.1,581.5L454.1,572M466,961.2L466,970.8M466,581.5L466,572M475.2,961.2L475.2,970.8M475.2,581.5L475.2,572M482.7,961.2L482.7,970.8M482.7,581.5L482.7,572M489,961.2L489,970.8M489,581.5L489,572M494.5,961.2L494.5,970.8M494.5,581.5L494.5,572M499.4,961.2L499.4,970.8M499.4,581.5L499.4,572M124,648.6L114.5,648.6M503.8,648.6L513.2,648.6M124,631.7L114.5,631.7M503.8,631.7L513.2,631.7M124,619.7L114.5,619.7M503.8,619.7L513.2,619.7M124,610.4L114.5,610.4M503.8,610.4L513.2,610.4M124,602.8L114.5,602.8M503.8,602.8L513.2,602.8M124,596.4L114.5,596.4M503.8,596.4L513.2,596.4M124,590.8L114.5,590.8M503.8,590.8L513.2,590.8M124,585.9L114.5,585.9M503.8,585.9L513.2,585.9M124,744.6L114.5,744.6M503.8,744.6L513.2,744.6M124,727.7L114.5,727.7M503.8,727.7L513.2,727.7M124,715.7L114.5,715.7M503.8,715.7L513.2,715.7M124,706.4L114.5,706.4M503.8,706.4L513.2,706.4M124,698.8L114.5,698.8M503.8,698.8L513.2,698.8M124,692.4L114.5,692.4M503.8,692.4L513.2,692.4M124,686.8L114.5,686.8M503.8,686.8L513.2,686.8M124,681.9L114.5,681.9M503.8,681.9L513.2,681.9M124,840.6L114.5,840.6M503.8,840.6L513.2,840.6M124,823.7L114.5,823.7M503.8,823.7L513.2,823.7M124,811.7L114.5,811.7M503.8,811.7L513.2,811.7M124,802.4L114.5,802.4M503.8,802.4L513.2,802.4M124,794.8L114.5,794.8M503.8,794.8L513.2,794.8M124,788.4L114.5,788.4M503.8,788.4L513.2,788.4M124,782.8L114.5,782.8M503.8,782.8L513.2,782.8M124,777.9L114.5,777.9M503.8,777.9L513.2,777.9M124,936.6L114.5,936.6M503.8,936.6L513.2,936.6M124,919.7L114.5,919.7M503.8,919.7L513.2,919.7M124,907.7L114.5,907.7M503.8,907.7L513.2,907.7M124,898.4L114.5,898.4M503.8,898.4L513.2,898.4M124,890.8L114.5,890.8M503.8,890.8L513.2,890.8M124,884.4L114.5,884.4M503.8,884.4L513.2,884.4M124,878.8L114.5,878.8M503.8,878.8L513.2,878.8M124,873.9L114.5,873.9M503.8,873.9L513.2,873.9" stroke="#000" stroke-width="2.4" fill="none"/>
<rect x="124" y="581.5" width="379.8" height="379.8" fill="none" stroke="#000" stroke-width="3"/>
<text x="106" y="1006" font-size="23.3" text-anchor="start">10<tspan font-size="14.2" dx="-0.8" dy="-11">0</tspan></text>
<text x="200.9" y="1006" font-size="23.3" text-anchor="start">10<tspan font-size="14.2" dx="-0.8" dy="-11">1</tspan></text>
<text x="295.9" y="1006" font-size="23.3" text-anchor="start">10<tspan font-size="14.2" dx="-0.8" dy="-11">2</tspan></text>
<text x="390.8" y="1006" font-size="23.3" text-anchor="start">10<tspan font-size="14.2" dx="-0.8" dy="-11">3</tspan></text>
<text x="484.8" y="1006" font-size="23.3" text-anchor="start">10<tspan font-size="14.2" dx="-0.8" dy="-11">4</tspan></text>
<text x="67" y="589.8" font-size="23.3" text-anchor="start">10<tspan font-size="14.2" dx="-0.8" dy="-11">17</tspan></text>
<text x="67" y="685.8" font-size="23.3" text-anchor="start">10<tspan font-size="14.2" dx="-0.8" dy="-11">16</tspan></text>
<text x="67" y="781.8" font-size="23.3" text-anchor="start">10<tspan font-size="14.2" dx="-0.8" dy="-11">15</tspan></text>
<text x="67" y="877.8" font-size="23.3" text-anchor="start">10<tspan font-size="14.2" dx="-0.8" dy="-11">14</tspan></text>
<text x="308.8" y="1059.3" font-size="23.1" text-anchor="middle">Photogenerated current density (mA/cm<tspan font-size="14.2" dy="-10.5">2</tspan><tspan dy="10.5">)</tspan></text>
<text transform="translate(22.4,511.3) rotate(-90)" font-size="23.5" text-anchor="middle">Bulk doping density (cm<tspan font-size="14" dy="-12.3">-3</tspan><tspan dy="12.3">)</tspan></text>
</svg></body></html>
